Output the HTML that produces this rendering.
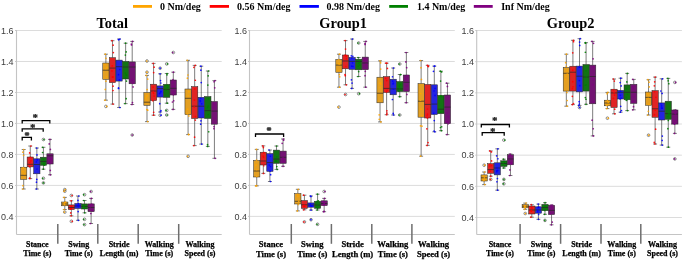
<!DOCTYPE html><html><head><meta charset="utf-8"><title>Chart</title><style>
html,body{margin:0;padding:0;background:#fff;}
body{width:685px;height:262px;overflow:hidden;}
svg{display:block;will-change:transform;}
.lg{font-family:"Liberation Serif",serif;font-weight:bold;font-size:10px;fill:#000;}
.ti{font-family:"Liberation Serif",serif;font-weight:bold;font-size:14.4px;fill:#000;text-anchor:middle;}
.tk{font-family:"Liberation Sans",sans-serif;font-size:9px;fill:#3d3d3d;text-anchor:end;}
.xl{font-family:"Liberation Serif",serif;font-weight:bold;fill:#000;stroke:#000;stroke-width:0.25px;text-anchor:middle;}
.st{font-family:"Liberation Serif",serif;font-weight:bold;font-size:11px;fill:#000;stroke:#000;stroke-width:0.15px;text-anchor:middle;}
</style></head><body><svg width="685" height="262" viewBox="0 0 685 262">
<rect width="685" height="262" fill="#fff"/>
<line x1="133" y1="6.4" x2="152" y2="6.4" stroke="#FFA500" stroke-width="2.8"/>
<text x="160.0" y="9.5" class="lg">0 Nm/deg</text>
<line x1="209.7" y1="6.4" x2="229" y2="6.4" stroke="#FF0000" stroke-width="2.8"/>
<text x="237.1" y="9.5" class="lg">0.56 Nm/deg</text>
<line x1="299.5" y1="6.4" x2="318.9" y2="6.4" stroke="#0000FF" stroke-width="2.8"/>
<text x="326.59999999999997" y="9.5" class="lg">0.98 Nm/deg</text>
<line x1="389.2" y1="6.4" x2="408" y2="6.4" stroke="#008000" stroke-width="2.8"/>
<text x="416.9" y="9.5" class="lg">1.4 Nm/deg</text>
<line x1="473.8" y1="6.4" x2="492.7" y2="6.4" stroke="#800080" stroke-width="2.8"/>
<text x="501.2" y="9.5" class="lg">Inf Nm/deg</text>
<line x1="16.5" y1="30.5" x2="221.7" y2="30.5" stroke="#dcdcdc" stroke-width="1"/>
<line x1="15.2" y1="30.5" x2="16.5" y2="30.5" stroke="#bbbbbb" stroke-width="1"/>
<line x1="16.5" y1="61.480000000000004" x2="221.7" y2="61.480000000000004" stroke="#dcdcdc" stroke-width="1"/>
<line x1="15.2" y1="61.480000000000004" x2="16.5" y2="61.480000000000004" stroke="#bbbbbb" stroke-width="1"/>
<line x1="16.5" y1="92.46000000000001" x2="221.7" y2="92.46000000000001" stroke="#dcdcdc" stroke-width="1"/>
<line x1="15.2" y1="92.46000000000001" x2="16.5" y2="92.46000000000001" stroke="#bbbbbb" stroke-width="1"/>
<line x1="16.5" y1="123.44" x2="221.7" y2="123.44" stroke="#dcdcdc" stroke-width="1"/>
<line x1="15.2" y1="123.44" x2="16.5" y2="123.44" stroke="#bbbbbb" stroke-width="1"/>
<line x1="16.5" y1="154.42000000000002" x2="221.7" y2="154.42000000000002" stroke="#dcdcdc" stroke-width="1"/>
<line x1="15.2" y1="154.42000000000002" x2="16.5" y2="154.42000000000002" stroke="#bbbbbb" stroke-width="1"/>
<line x1="16.5" y1="185.4" x2="221.7" y2="185.4" stroke="#dcdcdc" stroke-width="1"/>
<line x1="15.2" y1="185.4" x2="16.5" y2="185.4" stroke="#bbbbbb" stroke-width="1"/>
<line x1="16.5" y1="216.38" x2="221.7" y2="216.38" stroke="#dcdcdc" stroke-width="1"/>
<line x1="15.2" y1="216.38" x2="16.5" y2="216.38" stroke="#bbbbbb" stroke-width="1"/>
<line x1="16.5" y1="30" x2="16.5" y2="234.5" stroke="#c4c4c4" stroke-width="1.1"/>
<line x1="16.5" y1="234.5" x2="221.7" y2="234.5" stroke="#c4c4c4" stroke-width="1.2"/>
<text x="13.6" y="33.8" class="tk">1.6</text>
<text x="13.6" y="64.78" class="tk">1.4</text>
<text x="13.6" y="95.76" class="tk">1.2</text>
<text x="13.6" y="126.74" class="tk">1.0</text>
<text x="13.6" y="157.72000000000003" class="tk">0.8</text>
<text x="13.6" y="188.70000000000002" class="tk">0.6</text>
<text x="13.6" y="219.68" class="tk">0.4</text>
<text x="112.3" y="28.2" class="ti">Total</text>
<line x1="57.8" y1="224" x2="57.8" y2="243.8" stroke="#6e6e6e" stroke-width="1.5"/>
<line x1="97.8" y1="224" x2="97.8" y2="243.8" stroke="#6e6e6e" stroke-width="1.5"/>
<line x1="138.2" y1="224" x2="138.2" y2="243.8" stroke="#6e6e6e" stroke-width="1.5"/>
<line x1="178.7" y1="224" x2="178.7" y2="243.8" stroke="#6e6e6e" stroke-width="1.5"/>
<text x="37.3" y="246.80" class="xl" font-size="8">Stance</text>
<text x="37.3" y="256.00" class="xl" font-size="8">Time (s)</text>
<text x="78.7" y="246.80" class="xl" font-size="8">Swing</text>
<text x="78.7" y="256.00" class="xl" font-size="8">Time (s)</text>
<text x="119.1" y="246.80" class="xl" font-size="8">Stride</text>
<text x="119.1" y="256.00" class="xl" font-size="8">Length (m)</text>
<text x="159.2" y="246.80" class="xl" font-size="8">Walking</text>
<text x="159.2" y="256.00" class="xl" font-size="8">Time (s)</text>
<text x="200.0" y="246.80" class="xl" font-size="8">Walking</text>
<text x="200.0" y="256.00" class="xl" font-size="8">Speed (s)</text>
<line x1="23.69" y1="149.5" x2="23.69" y2="167.2" stroke="#262626" stroke-width="0.6"/>
<line x1="23.69" y1="179.4" x2="23.69" y2="189.0" stroke="#262626" stroke-width="0.6"/>
<line x1="21.72" y1="149.5" x2="25.66" y2="149.5" stroke="#262626" stroke-width="0.6"/>
<line x1="21.72" y1="189.0" x2="25.66" y2="189.0" stroke="#262626" stroke-width="0.6"/>
<rect x="20.55" y="167.2" width="6.28" height="12.20" fill="#E39F22" stroke="#262626" stroke-width="0.5"/>
<line x1="20.55" y1="175.3" x2="26.83" y2="175.3" stroke="#262626" stroke-width="0.7"/>
<circle cx="23.70" cy="149.50" r="0.85" fill="#FFA500" opacity="0.9"/>
<circle cx="22.86" cy="189.00" r="0.85" fill="#FFA500" opacity="0.9"/>
<circle cx="23.57" cy="155.23" r="0.85" fill="#FFA500" opacity="0.9"/>
<circle cx="22.92" cy="152.17" r="0.85" fill="#FFA500" opacity="0.9"/>
<circle cx="22.95" cy="185.65" r="0.85" fill="#FFA500" opacity="0.9"/>
<circle cx="23.55" cy="168.08" r="0.85" fill="#FFA500" opacity="0.9"/>
<circle cx="24.28" cy="173.74" r="0.85" fill="#FFA500" opacity="0.9"/>
<circle cx="23.01" cy="171.66" r="0.85" fill="#FFA500" opacity="0.9"/>
<circle cx="23.19" cy="167.91" r="0.85" fill="#FFA500" opacity="0.9"/>
<line x1="30.27" y1="146.0" x2="30.27" y2="157.0" stroke="#262626" stroke-width="0.6"/>
<line x1="30.27" y1="166.9" x2="30.27" y2="178.6" stroke="#262626" stroke-width="0.6"/>
<line x1="28.30" y1="146.0" x2="32.24" y2="146.0" stroke="#262626" stroke-width="0.6"/>
<line x1="28.30" y1="178.6" x2="32.24" y2="178.6" stroke="#262626" stroke-width="0.6"/>
<rect x="27.13" y="157.0" width="6.28" height="9.90" fill="#E02424" stroke="#262626" stroke-width="0.5"/>
<line x1="27.13" y1="164.3" x2="33.41" y2="164.3" stroke="#262626" stroke-width="0.7"/>
<circle cx="30.92" cy="146.00" r="0.85" fill="#FF0000" opacity="0.9"/>
<circle cx="29.89" cy="178.60" r="0.85" fill="#FF0000" opacity="0.9"/>
<circle cx="29.63" cy="152.90" r="0.85" fill="#FF0000" opacity="0.9"/>
<circle cx="29.58" cy="177.99" r="0.85" fill="#FF0000" opacity="0.9"/>
<circle cx="29.93" cy="162.71" r="0.85" fill="#FF0000" opacity="0.9"/>
<circle cx="30.84" cy="160.93" r="0.85" fill="#FF0000" opacity="0.9"/>
<circle cx="29.70" cy="166.66" r="0.85" fill="#FF0000" opacity="0.9"/>
<circle cx="30.42" cy="157.46" r="0.85" fill="#FF0000" opacity="0.9"/>
<line x1="36.85" y1="148.0" x2="36.85" y2="158.8" stroke="#262626" stroke-width="0.6"/>
<line x1="36.85" y1="173.8" x2="36.85" y2="189.0" stroke="#262626" stroke-width="0.6"/>
<line x1="34.88" y1="148.0" x2="38.82" y2="148.0" stroke="#262626" stroke-width="0.6"/>
<line x1="34.88" y1="189.0" x2="38.82" y2="189.0" stroke="#262626" stroke-width="0.6"/>
<rect x="33.71" y="158.8" width="6.28" height="15.00" fill="#2424E0" stroke="#262626" stroke-width="0.5"/>
<line x1="33.71" y1="164.5" x2="39.99" y2="164.5" stroke="#262626" stroke-width="0.7"/>
<circle cx="36.72" cy="148.00" r="0.85" fill="#0000FF" opacity="0.9"/>
<circle cx="36.52" cy="189.00" r="0.85" fill="#0000FF" opacity="0.9"/>
<circle cx="37.00" cy="154.90" r="0.85" fill="#0000FF" opacity="0.9"/>
<circle cx="36.77" cy="179.46" r="0.85" fill="#0000FF" opacity="0.9"/>
<circle cx="36.49" cy="182.13" r="0.85" fill="#0000FF" opacity="0.9"/>
<circle cx="37.38" cy="159.74" r="0.85" fill="#0000FF" opacity="0.9"/>
<circle cx="37.21" cy="159.69" r="0.85" fill="#0000FF" opacity="0.9"/>
<circle cx="36.39" cy="161.89" r="0.85" fill="#0000FF" opacity="0.9"/>
<circle cx="36.98" cy="169.01" r="0.85" fill="#0000FF" opacity="0.9"/>
<line x1="43.43" y1="147.3" x2="43.43" y2="157.2" stroke="#262626" stroke-width="0.6"/>
<line x1="43.43" y1="165.3" x2="43.43" y2="169.2" stroke="#262626" stroke-width="0.6"/>
<line x1="41.46" y1="147.3" x2="45.40" y2="147.3" stroke="#262626" stroke-width="0.6"/>
<line x1="41.46" y1="169.2" x2="45.40" y2="169.2" stroke="#262626" stroke-width="0.6"/>
<rect x="40.29" y="157.2" width="6.28" height="8.10" fill="#137313" stroke="#262626" stroke-width="0.5"/>
<line x1="40.29" y1="161.4" x2="46.57" y2="161.4" stroke="#262626" stroke-width="0.7"/>
<circle cx="43.43" cy="139.5" r="1.35" fill="none" stroke="#262626" stroke-width="0.5"/>
<circle cx="43.43" cy="178.3" r="1.35" fill="none" stroke="#262626" stroke-width="0.5"/>
<circle cx="43.43" cy="182.9" r="1.35" fill="none" stroke="#262626" stroke-width="0.5"/>
<circle cx="42.74" cy="147.30" r="0.85" fill="#008000" opacity="0.9"/>
<circle cx="43.28" cy="169.20" r="0.85" fill="#008000" opacity="0.9"/>
<circle cx="43.89" cy="139.50" r="0.85" fill="#008000" opacity="0.9"/>
<circle cx="42.80" cy="178.30" r="0.85" fill="#008000" opacity="0.9"/>
<circle cx="43.41" cy="182.90" r="0.85" fill="#008000" opacity="0.9"/>
<circle cx="42.60" cy="152.50" r="0.85" fill="#008000" opacity="0.9"/>
<circle cx="43.73" cy="164.29" r="0.85" fill="#008000" opacity="0.9"/>
<circle cx="43.91" cy="163.11" r="0.85" fill="#008000" opacity="0.9"/>
<circle cx="43.56" cy="159.53" r="0.85" fill="#008000" opacity="0.9"/>
<circle cx="44.11" cy="165.14" r="0.85" fill="#008000" opacity="0.9"/>
<line x1="50.01" y1="139.4" x2="50.01" y2="153.8" stroke="#262626" stroke-width="0.6"/>
<line x1="50.01" y1="164.0" x2="50.01" y2="174.8" stroke="#262626" stroke-width="0.6"/>
<line x1="48.04" y1="139.4" x2="51.98" y2="139.4" stroke="#262626" stroke-width="0.6"/>
<line x1="48.04" y1="174.8" x2="51.98" y2="174.8" stroke="#262626" stroke-width="0.6"/>
<rect x="46.87" y="153.8" width="6.28" height="10.20" fill="#731373" stroke="#262626" stroke-width="0.5"/>
<line x1="46.87" y1="155.8" x2="53.15" y2="155.8" stroke="#262626" stroke-width="0.7"/>
<circle cx="49.96" cy="139.40" r="0.85" fill="#800080" opacity="0.9"/>
<circle cx="50.31" cy="174.80" r="0.85" fill="#800080" opacity="0.9"/>
<circle cx="49.22" cy="143.92" r="0.85" fill="#800080" opacity="0.9"/>
<circle cx="50.37" cy="149.41" r="0.85" fill="#800080" opacity="0.9"/>
<circle cx="50.27" cy="170.42" r="0.85" fill="#800080" opacity="0.9"/>
<circle cx="50.90" cy="159.71" r="0.85" fill="#800080" opacity="0.9"/>
<circle cx="50.59" cy="158.45" r="0.85" fill="#800080" opacity="0.9"/>
<circle cx="49.62" cy="162.37" r="0.85" fill="#800080" opacity="0.9"/>
<circle cx="49.80" cy="163.44" r="0.85" fill="#800080" opacity="0.9"/>
<line x1="64.79" y1="197.4" x2="64.79" y2="202.0" stroke="#262626" stroke-width="0.6"/>
<line x1="64.79" y1="205.8" x2="64.79" y2="209.5" stroke="#262626" stroke-width="0.6"/>
<line x1="62.82" y1="197.4" x2="66.76" y2="197.4" stroke="#262626" stroke-width="0.6"/>
<line x1="62.82" y1="209.5" x2="66.76" y2="209.5" stroke="#262626" stroke-width="0.6"/>
<rect x="61.65" y="202.0" width="6.28" height="3.80" fill="#E39F22" stroke="#262626" stroke-width="0.5"/>
<line x1="61.65" y1="204.0" x2="67.93" y2="204.0" stroke="#262626" stroke-width="0.7"/>
<circle cx="64.79" cy="189.6" r="1.35" fill="none" stroke="#262626" stroke-width="0.5"/>
<circle cx="64.79" cy="191.2" r="1.35" fill="none" stroke="#262626" stroke-width="0.5"/>
<circle cx="64.79" cy="212.1" r="1.35" fill="none" stroke="#262626" stroke-width="0.5"/>
<circle cx="64.10" cy="197.40" r="0.85" fill="#FFA500" opacity="0.9"/>
<circle cx="64.00" cy="209.50" r="0.85" fill="#FFA500" opacity="0.9"/>
<circle cx="65.27" cy="189.60" r="0.85" fill="#FFA500" opacity="0.9"/>
<circle cx="64.12" cy="191.20" r="0.85" fill="#FFA500" opacity="0.9"/>
<circle cx="64.34" cy="212.10" r="0.85" fill="#FFA500" opacity="0.9"/>
<circle cx="64.59" cy="204.54" r="0.85" fill="#FFA500" opacity="0.9"/>
<circle cx="65.46" cy="202.09" r="0.85" fill="#FFA500" opacity="0.9"/>
<circle cx="64.04" cy="203.75" r="0.85" fill="#FFA500" opacity="0.9"/>
<circle cx="64.70" cy="202.64" r="0.85" fill="#FFA500" opacity="0.9"/>
<line x1="71.37" y1="200.8" x2="71.37" y2="204.9" stroke="#262626" stroke-width="0.6"/>
<line x1="71.37" y1="209.5" x2="71.37" y2="215.8" stroke="#262626" stroke-width="0.6"/>
<line x1="69.40" y1="200.8" x2="73.34" y2="200.8" stroke="#262626" stroke-width="0.6"/>
<line x1="69.40" y1="215.8" x2="73.34" y2="215.8" stroke="#262626" stroke-width="0.6"/>
<rect x="68.23" y="204.9" width="6.28" height="4.60" fill="#E02424" stroke="#262626" stroke-width="0.5"/>
<line x1="68.23" y1="207.5" x2="74.51" y2="207.5" stroke="#262626" stroke-width="0.7"/>
<circle cx="71.37" cy="195.5" r="1.35" fill="none" stroke="#262626" stroke-width="0.5"/>
<circle cx="71.37" cy="221.3" r="1.35" fill="none" stroke="#262626" stroke-width="0.5"/>
<circle cx="71.22" cy="200.80" r="0.85" fill="#FF0000" opacity="0.9"/>
<circle cx="71.12" cy="215.80" r="0.85" fill="#FF0000" opacity="0.9"/>
<circle cx="72.06" cy="195.50" r="0.85" fill="#FF0000" opacity="0.9"/>
<circle cx="72.19" cy="221.30" r="0.85" fill="#FF0000" opacity="0.9"/>
<circle cx="70.74" cy="212.96" r="0.85" fill="#FF0000" opacity="0.9"/>
<circle cx="70.79" cy="208.96" r="0.85" fill="#FF0000" opacity="0.9"/>
<circle cx="70.89" cy="208.67" r="0.85" fill="#FF0000" opacity="0.9"/>
<circle cx="70.89" cy="208.87" r="0.85" fill="#FF0000" opacity="0.9"/>
<circle cx="71.34" cy="206.18" r="0.85" fill="#FF0000" opacity="0.9"/>
<line x1="77.95" y1="196.0" x2="77.95" y2="203.5" stroke="#262626" stroke-width="0.6"/>
<line x1="77.95" y1="208.5" x2="77.95" y2="220.3" stroke="#262626" stroke-width="0.6"/>
<line x1="75.98" y1="196.0" x2="79.92" y2="196.0" stroke="#262626" stroke-width="0.6"/>
<line x1="75.98" y1="220.3" x2="79.92" y2="220.3" stroke="#262626" stroke-width="0.6"/>
<rect x="74.81" y="203.5" width="6.28" height="5.00" fill="#2424E0" stroke="#262626" stroke-width="0.5"/>
<line x1="74.81" y1="206.0" x2="81.09" y2="206.0" stroke="#262626" stroke-width="0.7"/>
<circle cx="78.77" cy="196.00" r="0.85" fill="#0000FF" opacity="0.9"/>
<circle cx="78.29" cy="220.30" r="0.85" fill="#0000FF" opacity="0.9"/>
<circle cx="77.98" cy="200.42" r="0.85" fill="#0000FF" opacity="0.9"/>
<circle cx="78.16" cy="211.60" r="0.85" fill="#0000FF" opacity="0.9"/>
<circle cx="78.27" cy="203.52" r="0.85" fill="#0000FF" opacity="0.9"/>
<circle cx="77.15" cy="205.59" r="0.85" fill="#0000FF" opacity="0.9"/>
<circle cx="78.67" cy="205.35" r="0.85" fill="#0000FF" opacity="0.9"/>
<circle cx="78.45" cy="206.33" r="0.85" fill="#0000FF" opacity="0.9"/>
<line x1="84.53" y1="200.5" x2="84.53" y2="203.9" stroke="#262626" stroke-width="0.6"/>
<line x1="84.53" y1="209.0" x2="84.53" y2="212.8" stroke="#262626" stroke-width="0.6"/>
<line x1="82.56" y1="200.5" x2="86.50" y2="200.5" stroke="#262626" stroke-width="0.6"/>
<line x1="82.56" y1="212.8" x2="86.50" y2="212.8" stroke="#262626" stroke-width="0.6"/>
<rect x="81.39" y="203.9" width="6.28" height="5.10" fill="#137313" stroke="#262626" stroke-width="0.5"/>
<line x1="81.39" y1="206.5" x2="87.67" y2="206.5" stroke="#262626" stroke-width="0.7"/>
<circle cx="84.53" cy="194.7" r="1.35" fill="none" stroke="#262626" stroke-width="0.5"/>
<circle cx="84.53" cy="219.3" r="1.35" fill="none" stroke="#262626" stroke-width="0.5"/>
<circle cx="84.53" cy="224.6" r="1.35" fill="none" stroke="#262626" stroke-width="0.5"/>
<circle cx="83.82" cy="200.50" r="0.85" fill="#008000" opacity="0.9"/>
<circle cx="84.77" cy="212.80" r="0.85" fill="#008000" opacity="0.9"/>
<circle cx="83.74" cy="194.70" r="0.85" fill="#008000" opacity="0.9"/>
<circle cx="83.75" cy="219.30" r="0.85" fill="#008000" opacity="0.9"/>
<circle cx="84.01" cy="224.60" r="0.85" fill="#008000" opacity="0.9"/>
<circle cx="83.92" cy="208.36" r="0.85" fill="#008000" opacity="0.9"/>
<circle cx="84.24" cy="207.97" r="0.85" fill="#008000" opacity="0.9"/>
<circle cx="83.72" cy="205.90" r="0.85" fill="#008000" opacity="0.9"/>
<circle cx="83.63" cy="205.93" r="0.85" fill="#008000" opacity="0.9"/>
<line x1="91.11" y1="198.4" x2="91.11" y2="203.9" stroke="#262626" stroke-width="0.6"/>
<line x1="91.11" y1="211.7" x2="91.11" y2="223.5" stroke="#262626" stroke-width="0.6"/>
<line x1="89.14" y1="198.4" x2="93.08" y2="198.4" stroke="#262626" stroke-width="0.6"/>
<line x1="89.14" y1="223.5" x2="93.08" y2="223.5" stroke="#262626" stroke-width="0.6"/>
<rect x="87.97" y="203.9" width="6.28" height="7.80" fill="#731373" stroke="#262626" stroke-width="0.5"/>
<line x1="87.97" y1="207.5" x2="94.25" y2="207.5" stroke="#262626" stroke-width="0.7"/>
<circle cx="91.11" cy="191.5" r="1.35" fill="none" stroke="#262626" stroke-width="0.5"/>
<circle cx="91.32" cy="198.40" r="0.85" fill="#800080" opacity="0.9"/>
<circle cx="90.48" cy="223.50" r="0.85" fill="#800080" opacity="0.9"/>
<circle cx="90.66" cy="191.50" r="0.85" fill="#800080" opacity="0.9"/>
<circle cx="90.84" cy="213.48" r="0.85" fill="#800080" opacity="0.9"/>
<circle cx="90.87" cy="204.69" r="0.85" fill="#800080" opacity="0.9"/>
<circle cx="90.43" cy="206.74" r="0.85" fill="#800080" opacity="0.9"/>
<circle cx="91.74" cy="204.10" r="0.85" fill="#800080" opacity="0.9"/>
<circle cx="92.00" cy="210.72" r="0.85" fill="#800080" opacity="0.9"/>
<line x1="105.89" y1="54.2" x2="105.89" y2="63.0" stroke="#262626" stroke-width="0.6"/>
<line x1="105.89" y1="79.4" x2="105.89" y2="100.2" stroke="#262626" stroke-width="0.6"/>
<line x1="103.92" y1="54.2" x2="107.86" y2="54.2" stroke="#262626" stroke-width="0.6"/>
<line x1="103.92" y1="100.2" x2="107.86" y2="100.2" stroke="#262626" stroke-width="0.6"/>
<rect x="102.75" y="63.0" width="6.28" height="16.40" fill="#E39F22" stroke="#262626" stroke-width="0.5"/>
<line x1="102.75" y1="70.2" x2="109.03" y2="70.2" stroke="#262626" stroke-width="0.7"/>
<circle cx="105.89" cy="106.4" r="1.35" fill="none" stroke="#262626" stroke-width="0.5"/>
<circle cx="105.28" cy="54.20" r="0.85" fill="#FFA500" opacity="0.9"/>
<circle cx="105.03" cy="100.20" r="0.85" fill="#FFA500" opacity="0.9"/>
<circle cx="106.70" cy="106.40" r="0.85" fill="#FFA500" opacity="0.9"/>
<circle cx="105.94" cy="58.30" r="0.85" fill="#FFA500" opacity="0.9"/>
<circle cx="105.25" cy="89.46" r="0.85" fill="#FFA500" opacity="0.9"/>
<circle cx="105.97" cy="81.19" r="0.85" fill="#FFA500" opacity="0.9"/>
<circle cx="105.04" cy="64.68" r="0.85" fill="#FFA500" opacity="0.9"/>
<circle cx="105.94" cy="68.62" r="0.85" fill="#FFA500" opacity="0.9"/>
<circle cx="106.75" cy="67.34" r="0.85" fill="#FFA500" opacity="0.9"/>
<circle cx="106.54" cy="76.59" r="0.85" fill="#FFA500" opacity="0.9"/>
<line x1="112.47" y1="40.7" x2="112.47" y2="57.7" stroke="#262626" stroke-width="0.6"/>
<line x1="112.47" y1="82.6" x2="112.47" y2="104.1" stroke="#262626" stroke-width="0.6"/>
<line x1="110.50" y1="40.7" x2="114.44" y2="40.7" stroke="#262626" stroke-width="0.6"/>
<line x1="110.50" y1="104.1" x2="114.44" y2="104.1" stroke="#262626" stroke-width="0.6"/>
<rect x="109.33" y="57.7" width="6.28" height="24.90" fill="#E02424" stroke="#262626" stroke-width="0.5"/>
<line x1="109.33" y1="68.1" x2="115.61" y2="68.1" stroke="#262626" stroke-width="0.7"/>
<circle cx="111.97" cy="40.70" r="0.85" fill="#FF0000" opacity="0.9"/>
<circle cx="113.03" cy="104.10" r="0.85" fill="#FF0000" opacity="0.9"/>
<circle cx="113.34" cy="52.54" r="0.85" fill="#FF0000" opacity="0.9"/>
<circle cx="113.10" cy="45.14" r="0.85" fill="#FF0000" opacity="0.9"/>
<circle cx="113.02" cy="90.48" r="0.85" fill="#FF0000" opacity="0.9"/>
<circle cx="113.04" cy="86.19" r="0.85" fill="#FF0000" opacity="0.9"/>
<circle cx="112.90" cy="76.92" r="0.85" fill="#FF0000" opacity="0.9"/>
<circle cx="111.98" cy="70.96" r="0.85" fill="#FF0000" opacity="0.9"/>
<circle cx="112.50" cy="77.10" r="0.85" fill="#FF0000" opacity="0.9"/>
<circle cx="112.21" cy="65.91" r="0.85" fill="#FF0000" opacity="0.9"/>
<line x1="119.05" y1="39.0" x2="119.05" y2="60.1" stroke="#262626" stroke-width="0.6"/>
<line x1="119.05" y1="81.1" x2="119.05" y2="107.5" stroke="#262626" stroke-width="0.6"/>
<line x1="117.08" y1="39.0" x2="121.02" y2="39.0" stroke="#262626" stroke-width="0.6"/>
<line x1="117.08" y1="107.5" x2="121.02" y2="107.5" stroke="#262626" stroke-width="0.6"/>
<rect x="115.91" y="60.1" width="6.28" height="21.00" fill="#2424E0" stroke="#262626" stroke-width="0.5"/>
<line x1="115.91" y1="66.7" x2="122.19" y2="66.7" stroke="#262626" stroke-width="0.7"/>
<circle cx="119.93" cy="39.00" r="0.85" fill="#0000FF" opacity="0.9"/>
<circle cx="119.87" cy="107.50" r="0.85" fill="#0000FF" opacity="0.9"/>
<circle cx="118.81" cy="39.61" r="0.85" fill="#0000FF" opacity="0.9"/>
<circle cx="118.55" cy="39.59" r="0.85" fill="#0000FF" opacity="0.9"/>
<circle cx="118.56" cy="88.48" r="0.85" fill="#0000FF" opacity="0.9"/>
<circle cx="118.50" cy="87.94" r="0.85" fill="#0000FF" opacity="0.9"/>
<circle cx="118.52" cy="74.64" r="0.85" fill="#0000FF" opacity="0.9"/>
<circle cx="119.27" cy="80.19" r="0.85" fill="#0000FF" opacity="0.9"/>
<circle cx="119.77" cy="69.49" r="0.85" fill="#0000FF" opacity="0.9"/>
<circle cx="119.66" cy="79.78" r="0.85" fill="#0000FF" opacity="0.9"/>
<line x1="125.63" y1="43.2" x2="125.63" y2="61.4" stroke="#262626" stroke-width="0.6"/>
<line x1="125.63" y1="79.0" x2="125.63" y2="103.6" stroke="#262626" stroke-width="0.6"/>
<line x1="123.66" y1="43.2" x2="127.60" y2="43.2" stroke="#262626" stroke-width="0.6"/>
<line x1="123.66" y1="103.6" x2="127.60" y2="103.6" stroke="#262626" stroke-width="0.6"/>
<rect x="122.49" y="61.4" width="6.28" height="17.60" fill="#137313" stroke="#262626" stroke-width="0.5"/>
<line x1="122.49" y1="67.0" x2="128.77" y2="67.0" stroke="#262626" stroke-width="0.7"/>
<circle cx="125.59" cy="43.20" r="0.85" fill="#008000" opacity="0.9"/>
<circle cx="125.05" cy="103.60" r="0.85" fill="#008000" opacity="0.9"/>
<circle cx="126.15" cy="51.93" r="0.85" fill="#008000" opacity="0.9"/>
<circle cx="125.33" cy="55.08" r="0.85" fill="#008000" opacity="0.9"/>
<circle cx="126.17" cy="98.67" r="0.85" fill="#008000" opacity="0.9"/>
<circle cx="126.48" cy="81.09" r="0.85" fill="#008000" opacity="0.9"/>
<circle cx="125.44" cy="73.03" r="0.85" fill="#008000" opacity="0.9"/>
<circle cx="125.45" cy="77.41" r="0.85" fill="#008000" opacity="0.9"/>
<circle cx="126.43" cy="75.17" r="0.85" fill="#008000" opacity="0.9"/>
<circle cx="126.03" cy="74.60" r="0.85" fill="#008000" opacity="0.9"/>
<line x1="132.21" y1="41.4" x2="132.21" y2="61.9" stroke="#262626" stroke-width="0.6"/>
<line x1="132.21" y1="83.8" x2="132.21" y2="104.5" stroke="#262626" stroke-width="0.6"/>
<line x1="130.24" y1="41.4" x2="134.18" y2="41.4" stroke="#262626" stroke-width="0.6"/>
<line x1="130.24" y1="104.5" x2="134.18" y2="104.5" stroke="#262626" stroke-width="0.6"/>
<rect x="129.07" y="61.9" width="6.28" height="21.90" fill="#731373" stroke="#262626" stroke-width="0.5"/>
<line x1="129.07" y1="67.0" x2="135.35" y2="67.0" stroke="#262626" stroke-width="0.7"/>
<circle cx="132.21" cy="135.0" r="1.35" fill="none" stroke="#262626" stroke-width="0.5"/>
<circle cx="132.49" cy="41.40" r="0.85" fill="#800080" opacity="0.9"/>
<circle cx="131.94" cy="104.50" r="0.85" fill="#800080" opacity="0.9"/>
<circle cx="132.30" cy="135.00" r="0.85" fill="#800080" opacity="0.9"/>
<circle cx="131.55" cy="44.89" r="0.85" fill="#800080" opacity="0.9"/>
<circle cx="131.34" cy="44.00" r="0.85" fill="#800080" opacity="0.9"/>
<circle cx="133.06" cy="86.93" r="0.85" fill="#800080" opacity="0.9"/>
<circle cx="132.48" cy="102.53" r="0.85" fill="#800080" opacity="0.9"/>
<circle cx="132.26" cy="79.56" r="0.85" fill="#800080" opacity="0.9"/>
<circle cx="132.99" cy="65.10" r="0.85" fill="#800080" opacity="0.9"/>
<circle cx="132.09" cy="80.00" r="0.85" fill="#800080" opacity="0.9"/>
<circle cx="132.88" cy="83.37" r="0.85" fill="#800080" opacity="0.9"/>
<line x1="146.99" y1="75.4" x2="146.99" y2="92.6" stroke="#262626" stroke-width="0.6"/>
<line x1="146.99" y1="105.4" x2="146.99" y2="121.6" stroke="#262626" stroke-width="0.6"/>
<line x1="145.02" y1="75.4" x2="148.96" y2="75.4" stroke="#262626" stroke-width="0.6"/>
<line x1="145.02" y1="121.6" x2="148.96" y2="121.6" stroke="#262626" stroke-width="0.6"/>
<rect x="143.85" y="92.6" width="6.28" height="12.80" fill="#E39F22" stroke="#262626" stroke-width="0.5"/>
<line x1="143.85" y1="102.2" x2="150.13" y2="102.2" stroke="#262626" stroke-width="0.7"/>
<circle cx="146.99" cy="61.0" r="1.35" fill="none" stroke="#262626" stroke-width="0.5"/>
<circle cx="146.99" cy="72.2" r="1.35" fill="none" stroke="#262626" stroke-width="0.5"/>
<circle cx="146.33" cy="75.40" r="0.85" fill="#FFA500" opacity="0.9"/>
<circle cx="147.73" cy="121.60" r="0.85" fill="#FFA500" opacity="0.9"/>
<circle cx="146.73" cy="61.00" r="0.85" fill="#FFA500" opacity="0.9"/>
<circle cx="146.91" cy="72.20" r="0.85" fill="#FFA500" opacity="0.9"/>
<circle cx="147.14" cy="89.61" r="0.85" fill="#FFA500" opacity="0.9"/>
<circle cx="147.72" cy="79.03" r="0.85" fill="#FFA500" opacity="0.9"/>
<circle cx="146.85" cy="109.48" r="0.85" fill="#FFA500" opacity="0.9"/>
<circle cx="147.74" cy="110.15" r="0.85" fill="#FFA500" opacity="0.9"/>
<circle cx="146.99" cy="95.68" r="0.85" fill="#FFA500" opacity="0.9"/>
<circle cx="147.05" cy="100.11" r="0.85" fill="#FFA500" opacity="0.9"/>
<circle cx="147.03" cy="95.92" r="0.85" fill="#FFA500" opacity="0.9"/>
<circle cx="146.12" cy="97.96" r="0.85" fill="#FFA500" opacity="0.9"/>
<line x1="153.57" y1="63.4" x2="153.57" y2="84.2" stroke="#262626" stroke-width="0.6"/>
<line x1="153.57" y1="100.6" x2="153.57" y2="115.2" stroke="#262626" stroke-width="0.6"/>
<line x1="151.60" y1="63.4" x2="155.54" y2="63.4" stroke="#262626" stroke-width="0.6"/>
<line x1="151.60" y1="115.2" x2="155.54" y2="115.2" stroke="#262626" stroke-width="0.6"/>
<rect x="150.43" y="84.2" width="6.28" height="16.40" fill="#E02424" stroke="#262626" stroke-width="0.5"/>
<line x1="150.43" y1="91.0" x2="156.71" y2="91.0" stroke="#262626" stroke-width="0.7"/>
<circle cx="153.26" cy="63.40" r="0.85" fill="#FF0000" opacity="0.9"/>
<circle cx="153.60" cy="115.20" r="0.85" fill="#FF0000" opacity="0.9"/>
<circle cx="153.67" cy="72.55" r="0.85" fill="#FF0000" opacity="0.9"/>
<circle cx="154.08" cy="67.21" r="0.85" fill="#FF0000" opacity="0.9"/>
<circle cx="152.86" cy="100.66" r="0.85" fill="#FF0000" opacity="0.9"/>
<circle cx="153.68" cy="112.27" r="0.85" fill="#FF0000" opacity="0.9"/>
<circle cx="153.12" cy="87.03" r="0.85" fill="#FF0000" opacity="0.9"/>
<circle cx="153.17" cy="91.97" r="0.85" fill="#FF0000" opacity="0.9"/>
<circle cx="154.06" cy="96.09" r="0.85" fill="#FF0000" opacity="0.9"/>
<circle cx="153.58" cy="93.33" r="0.85" fill="#FF0000" opacity="0.9"/>
<line x1="160.15" y1="73.8" x2="160.15" y2="85.9" stroke="#262626" stroke-width="0.6"/>
<line x1="160.15" y1="97.1" x2="160.15" y2="112.0" stroke="#262626" stroke-width="0.6"/>
<line x1="158.18" y1="73.8" x2="162.12" y2="73.8" stroke="#262626" stroke-width="0.6"/>
<line x1="158.18" y1="112.0" x2="162.12" y2="112.0" stroke="#262626" stroke-width="0.6"/>
<rect x="157.01" y="85.9" width="6.28" height="11.20" fill="#2424E0" stroke="#262626" stroke-width="0.5"/>
<line x1="157.01" y1="88.6" x2="163.29" y2="88.6" stroke="#262626" stroke-width="0.7"/>
<circle cx="160.15" cy="68.2" r="1.35" fill="none" stroke="#262626" stroke-width="0.5"/>
<circle cx="160.15" cy="115.2" r="1.35" fill="none" stroke="#262626" stroke-width="0.5"/>
<circle cx="160.06" cy="73.80" r="0.85" fill="#0000FF" opacity="0.9"/>
<circle cx="160.21" cy="112.00" r="0.85" fill="#0000FF" opacity="0.9"/>
<circle cx="160.11" cy="68.20" r="0.85" fill="#0000FF" opacity="0.9"/>
<circle cx="160.94" cy="115.20" r="0.85" fill="#0000FF" opacity="0.9"/>
<circle cx="160.51" cy="80.60" r="0.85" fill="#0000FF" opacity="0.9"/>
<circle cx="160.83" cy="83.00" r="0.85" fill="#0000FF" opacity="0.9"/>
<circle cx="160.95" cy="110.70" r="0.85" fill="#0000FF" opacity="0.9"/>
<circle cx="159.72" cy="103.70" r="0.85" fill="#0000FF" opacity="0.9"/>
<circle cx="160.26" cy="92.76" r="0.85" fill="#0000FF" opacity="0.9"/>
<circle cx="160.95" cy="91.56" r="0.85" fill="#0000FF" opacity="0.9"/>
<circle cx="160.76" cy="91.64" r="0.85" fill="#0000FF" opacity="0.9"/>
<circle cx="159.50" cy="93.66" r="0.85" fill="#0000FF" opacity="0.9"/>
<line x1="166.73" y1="73.5" x2="166.73" y2="84.3" stroke="#262626" stroke-width="0.6"/>
<line x1="166.73" y1="97.4" x2="166.73" y2="103.2" stroke="#262626" stroke-width="0.6"/>
<line x1="164.76" y1="73.5" x2="168.70" y2="73.5" stroke="#262626" stroke-width="0.6"/>
<line x1="164.76" y1="103.2" x2="168.70" y2="103.2" stroke="#262626" stroke-width="0.6"/>
<rect x="163.59" y="84.3" width="6.28" height="13.10" fill="#137313" stroke="#262626" stroke-width="0.5"/>
<line x1="163.59" y1="89.4" x2="169.87" y2="89.4" stroke="#262626" stroke-width="0.7"/>
<circle cx="166.73" cy="63.9" r="1.35" fill="none" stroke="#262626" stroke-width="0.5"/>
<circle cx="166.73" cy="110.4" r="1.35" fill="none" stroke="#262626" stroke-width="0.5"/>
<circle cx="166.73" cy="115.0" r="1.35" fill="none" stroke="#262626" stroke-width="0.5"/>
<circle cx="167.04" cy="73.50" r="0.85" fill="#008000" opacity="0.9"/>
<circle cx="167.24" cy="103.20" r="0.85" fill="#008000" opacity="0.9"/>
<circle cx="167.44" cy="63.90" r="0.85" fill="#008000" opacity="0.9"/>
<circle cx="166.11" cy="110.40" r="0.85" fill="#008000" opacity="0.9"/>
<circle cx="167.12" cy="115.00" r="0.85" fill="#008000" opacity="0.9"/>
<circle cx="167.02" cy="74.81" r="0.85" fill="#008000" opacity="0.9"/>
<circle cx="166.09" cy="90.09" r="0.85" fill="#008000" opacity="0.9"/>
<circle cx="167.42" cy="85.25" r="0.85" fill="#008000" opacity="0.9"/>
<circle cx="167.57" cy="87.45" r="0.85" fill="#008000" opacity="0.9"/>
<circle cx="166.23" cy="85.26" r="0.85" fill="#008000" opacity="0.9"/>
<line x1="173.31" y1="72.2" x2="173.31" y2="80.0" stroke="#262626" stroke-width="0.6"/>
<line x1="173.31" y1="95.0" x2="173.31" y2="109.4" stroke="#262626" stroke-width="0.6"/>
<line x1="171.34" y1="72.2" x2="175.28" y2="72.2" stroke="#262626" stroke-width="0.6"/>
<line x1="171.34" y1="109.4" x2="175.28" y2="109.4" stroke="#262626" stroke-width="0.6"/>
<rect x="170.17" y="80.0" width="6.28" height="15.00" fill="#731373" stroke="#262626" stroke-width="0.5"/>
<line x1="170.17" y1="88.3" x2="176.45" y2="88.3" stroke="#262626" stroke-width="0.7"/>
<circle cx="173.31" cy="52.5" r="1.35" fill="none" stroke="#262626" stroke-width="0.5"/>
<circle cx="173.34" cy="72.20" r="0.85" fill="#800080" opacity="0.9"/>
<circle cx="173.02" cy="109.40" r="0.85" fill="#800080" opacity="0.9"/>
<circle cx="172.76" cy="52.50" r="0.85" fill="#800080" opacity="0.9"/>
<circle cx="172.98" cy="79.63" r="0.85" fill="#800080" opacity="0.9"/>
<circle cx="173.71" cy="100.73" r="0.85" fill="#800080" opacity="0.9"/>
<circle cx="172.45" cy="102.02" r="0.85" fill="#800080" opacity="0.9"/>
<circle cx="173.41" cy="94.85" r="0.85" fill="#800080" opacity="0.9"/>
<circle cx="173.20" cy="92.49" r="0.85" fill="#800080" opacity="0.9"/>
<circle cx="172.44" cy="82.42" r="0.85" fill="#800080" opacity="0.9"/>
<circle cx="173.01" cy="86.47" r="0.85" fill="#800080" opacity="0.9"/>
<line x1="188.09" y1="60.3" x2="188.09" y2="89.0" stroke="#262626" stroke-width="0.6"/>
<line x1="188.09" y1="114.6" x2="188.09" y2="134.6" stroke="#262626" stroke-width="0.6"/>
<line x1="186.12" y1="60.3" x2="190.06" y2="60.3" stroke="#262626" stroke-width="0.6"/>
<line x1="186.12" y1="134.6" x2="190.06" y2="134.6" stroke="#262626" stroke-width="0.6"/>
<rect x="184.95" y="89.0" width="6.28" height="25.60" fill="#E39F22" stroke="#262626" stroke-width="0.5"/>
<line x1="184.95" y1="98.3" x2="191.23" y2="98.3" stroke="#262626" stroke-width="0.7"/>
<circle cx="188.09" cy="156.3" r="1.35" fill="none" stroke="#262626" stroke-width="0.5"/>
<circle cx="187.26" cy="60.30" r="0.85" fill="#FFA500" opacity="0.9"/>
<circle cx="188.59" cy="134.60" r="0.85" fill="#FFA500" opacity="0.9"/>
<circle cx="187.68" cy="156.30" r="0.85" fill="#FFA500" opacity="0.9"/>
<circle cx="187.42" cy="78.21" r="0.85" fill="#FFA500" opacity="0.9"/>
<circle cx="187.95" cy="75.00" r="0.85" fill="#FFA500" opacity="0.9"/>
<circle cx="188.83" cy="115.89" r="0.85" fill="#FFA500" opacity="0.9"/>
<circle cx="188.66" cy="134.30" r="0.85" fill="#FFA500" opacity="0.9"/>
<circle cx="187.66" cy="109.18" r="0.85" fill="#FFA500" opacity="0.9"/>
<circle cx="187.46" cy="113.88" r="0.85" fill="#FFA500" opacity="0.9"/>
<circle cx="188.84" cy="91.68" r="0.85" fill="#FFA500" opacity="0.9"/>
<circle cx="188.22" cy="95.80" r="0.85" fill="#FFA500" opacity="0.9"/>
<line x1="194.67" y1="65.4" x2="194.67" y2="86.6" stroke="#262626" stroke-width="0.6"/>
<line x1="194.67" y1="118.5" x2="194.67" y2="145.6" stroke="#262626" stroke-width="0.6"/>
<line x1="192.70" y1="65.4" x2="196.64" y2="65.4" stroke="#262626" stroke-width="0.6"/>
<line x1="192.70" y1="145.6" x2="196.64" y2="145.6" stroke="#262626" stroke-width="0.6"/>
<rect x="191.53" y="86.6" width="6.28" height="31.90" fill="#E02424" stroke="#262626" stroke-width="0.5"/>
<line x1="191.53" y1="106.2" x2="197.81" y2="106.2" stroke="#262626" stroke-width="0.7"/>
<circle cx="195.21" cy="65.40" r="0.85" fill="#FF0000" opacity="0.9"/>
<circle cx="193.92" cy="145.60" r="0.85" fill="#FF0000" opacity="0.9"/>
<circle cx="195.31" cy="80.25" r="0.85" fill="#FF0000" opacity="0.9"/>
<circle cx="193.89" cy="67.30" r="0.85" fill="#FF0000" opacity="0.9"/>
<circle cx="195.32" cy="120.06" r="0.85" fill="#FF0000" opacity="0.9"/>
<circle cx="194.59" cy="137.15" r="0.85" fill="#FF0000" opacity="0.9"/>
<circle cx="194.38" cy="100.17" r="0.85" fill="#FF0000" opacity="0.9"/>
<circle cx="194.77" cy="88.91" r="0.85" fill="#FF0000" opacity="0.9"/>
<circle cx="195.44" cy="116.53" r="0.85" fill="#FF0000" opacity="0.9"/>
<circle cx="194.25" cy="106.84" r="0.85" fill="#FF0000" opacity="0.9"/>
<line x1="201.25" y1="66.2" x2="201.25" y2="97.3" stroke="#262626" stroke-width="0.6"/>
<line x1="201.25" y1="118.0" x2="201.25" y2="144.1" stroke="#262626" stroke-width="0.6"/>
<line x1="199.28" y1="66.2" x2="203.22" y2="66.2" stroke="#262626" stroke-width="0.6"/>
<line x1="199.28" y1="144.1" x2="203.22" y2="144.1" stroke="#262626" stroke-width="0.6"/>
<rect x="198.11" y="97.3" width="6.28" height="20.70" fill="#2424E0" stroke="#262626" stroke-width="0.5"/>
<line x1="198.11" y1="106.2" x2="204.39" y2="106.2" stroke="#262626" stroke-width="0.7"/>
<circle cx="200.90" cy="66.20" r="0.85" fill="#0000FF" opacity="0.9"/>
<circle cx="201.72" cy="144.10" r="0.85" fill="#0000FF" opacity="0.9"/>
<circle cx="200.87" cy="70.22" r="0.85" fill="#0000FF" opacity="0.9"/>
<circle cx="201.25" cy="82.59" r="0.85" fill="#0000FF" opacity="0.9"/>
<circle cx="200.67" cy="124.22" r="0.85" fill="#0000FF" opacity="0.9"/>
<circle cx="200.97" cy="120.86" r="0.85" fill="#0000FF" opacity="0.9"/>
<circle cx="200.38" cy="100.64" r="0.85" fill="#0000FF" opacity="0.9"/>
<circle cx="200.80" cy="98.34" r="0.85" fill="#0000FF" opacity="0.9"/>
<circle cx="200.38" cy="101.48" r="0.85" fill="#0000FF" opacity="0.9"/>
<circle cx="201.67" cy="103.76" r="0.85" fill="#0000FF" opacity="0.9"/>
<line x1="207.83" y1="71.0" x2="207.83" y2="96.5" stroke="#262626" stroke-width="0.6"/>
<line x1="207.83" y1="118.5" x2="207.83" y2="146.4" stroke="#262626" stroke-width="0.6"/>
<line x1="205.86" y1="71.0" x2="209.80" y2="71.0" stroke="#262626" stroke-width="0.6"/>
<line x1="205.86" y1="146.4" x2="209.80" y2="146.4" stroke="#262626" stroke-width="0.6"/>
<rect x="204.69" y="96.5" width="6.28" height="22.00" fill="#137313" stroke="#262626" stroke-width="0.5"/>
<line x1="204.69" y1="110.6" x2="210.97" y2="110.6" stroke="#262626" stroke-width="0.7"/>
<circle cx="208.43" cy="71.00" r="0.85" fill="#008000" opacity="0.9"/>
<circle cx="207.64" cy="146.40" r="0.85" fill="#008000" opacity="0.9"/>
<circle cx="207.84" cy="85.05" r="0.85" fill="#008000" opacity="0.9"/>
<circle cx="208.17" cy="75.83" r="0.85" fill="#008000" opacity="0.9"/>
<circle cx="208.70" cy="131.75" r="0.85" fill="#008000" opacity="0.9"/>
<circle cx="207.55" cy="144.58" r="0.85" fill="#008000" opacity="0.9"/>
<circle cx="208.43" cy="98.84" r="0.85" fill="#008000" opacity="0.9"/>
<circle cx="208.20" cy="114.52" r="0.85" fill="#008000" opacity="0.9"/>
<circle cx="208.07" cy="106.01" r="0.85" fill="#008000" opacity="0.9"/>
<circle cx="207.66" cy="107.39" r="0.85" fill="#008000" opacity="0.9"/>
<line x1="214.41" y1="80.6" x2="214.41" y2="101.5" stroke="#262626" stroke-width="0.6"/>
<line x1="214.41" y1="124.2" x2="214.41" y2="158.3" stroke="#262626" stroke-width="0.6"/>
<line x1="212.44" y1="80.6" x2="216.38" y2="80.6" stroke="#262626" stroke-width="0.6"/>
<line x1="212.44" y1="158.3" x2="216.38" y2="158.3" stroke="#262626" stroke-width="0.6"/>
<rect x="211.27" y="101.5" width="6.28" height="22.70" fill="#731373" stroke="#262626" stroke-width="0.5"/>
<line x1="211.27" y1="111.1" x2="217.55" y2="111.1" stroke="#262626" stroke-width="0.7"/>
<circle cx="215.02" cy="80.60" r="0.85" fill="#800080" opacity="0.9"/>
<circle cx="215.08" cy="158.30" r="0.85" fill="#800080" opacity="0.9"/>
<circle cx="214.72" cy="87.86" r="0.85" fill="#800080" opacity="0.9"/>
<circle cx="214.02" cy="81.74" r="0.85" fill="#800080" opacity="0.9"/>
<circle cx="213.95" cy="128.63" r="0.85" fill="#800080" opacity="0.9"/>
<circle cx="214.04" cy="126.61" r="0.85" fill="#800080" opacity="0.9"/>
<circle cx="214.34" cy="118.32" r="0.85" fill="#800080" opacity="0.9"/>
<circle cx="213.79" cy="107.30" r="0.85" fill="#800080" opacity="0.9"/>
<circle cx="214.31" cy="105.21" r="0.85" fill="#800080" opacity="0.9"/>
<circle cx="213.98" cy="103.42" r="0.85" fill="#800080" opacity="0.9"/>
<line x1="249.5" y1="30.5" x2="454.8" y2="30.5" stroke="#dcdcdc" stroke-width="1"/>
<line x1="248.2" y1="30.5" x2="249.5" y2="30.5" stroke="#bbbbbb" stroke-width="1"/>
<line x1="249.5" y1="61.480000000000004" x2="454.8" y2="61.480000000000004" stroke="#dcdcdc" stroke-width="1"/>
<line x1="248.2" y1="61.480000000000004" x2="249.5" y2="61.480000000000004" stroke="#bbbbbb" stroke-width="1"/>
<line x1="249.5" y1="92.46000000000001" x2="454.8" y2="92.46000000000001" stroke="#dcdcdc" stroke-width="1"/>
<line x1="248.2" y1="92.46000000000001" x2="249.5" y2="92.46000000000001" stroke="#bbbbbb" stroke-width="1"/>
<line x1="249.5" y1="123.44" x2="454.8" y2="123.44" stroke="#dcdcdc" stroke-width="1"/>
<line x1="248.2" y1="123.44" x2="249.5" y2="123.44" stroke="#bbbbbb" stroke-width="1"/>
<line x1="249.5" y1="154.42000000000002" x2="454.8" y2="154.42000000000002" stroke="#dcdcdc" stroke-width="1"/>
<line x1="248.2" y1="154.42000000000002" x2="249.5" y2="154.42000000000002" stroke="#bbbbbb" stroke-width="1"/>
<line x1="249.5" y1="185.4" x2="454.8" y2="185.4" stroke="#dcdcdc" stroke-width="1"/>
<line x1="248.2" y1="185.4" x2="249.5" y2="185.4" stroke="#bbbbbb" stroke-width="1"/>
<line x1="249.5" y1="216.38" x2="454.8" y2="216.38" stroke="#dcdcdc" stroke-width="1"/>
<line x1="248.2" y1="216.38" x2="249.5" y2="216.38" stroke="#bbbbbb" stroke-width="1"/>
<line x1="249.5" y1="30" x2="249.5" y2="234.5" stroke="#c4c4c4" stroke-width="1.1"/>
<line x1="249.5" y1="234.5" x2="454.8" y2="234.5" stroke="#c4c4c4" stroke-width="1.2"/>
<text x="247.0" y="33.8" class="tk">1.6</text>
<text x="247.0" y="64.78" class="tk">1.4</text>
<text x="247.0" y="95.76" class="tk">1.2</text>
<text x="247.0" y="126.74" class="tk">1.0</text>
<text x="247.0" y="157.72000000000003" class="tk">0.8</text>
<text x="247.0" y="188.70000000000002" class="tk">0.6</text>
<text x="247.0" y="219.68" class="tk">0.4</text>
<text x="343.2" y="28.2" class="ti">Group1</text>
<line x1="291.3" y1="224" x2="291.3" y2="243.8" stroke="#6e6e6e" stroke-width="1.5"/>
<line x1="331.4" y1="224" x2="331.4" y2="243.8" stroke="#6e6e6e" stroke-width="1.5"/>
<line x1="371.8" y1="224" x2="371.8" y2="243.8" stroke="#6e6e6e" stroke-width="1.5"/>
<line x1="411.9" y1="224" x2="411.9" y2="243.8" stroke="#6e6e6e" stroke-width="1.5"/>
<text x="271.0" y="247.30" class="xl" font-size="8.6">Stance</text>
<text x="271.0" y="256.50" class="xl" font-size="8.6">Time (s)</text>
<text x="312.3" y="247.30" class="xl" font-size="8.6">Swing</text>
<text x="312.3" y="256.50" class="xl" font-size="8.6">Time (s)</text>
<text x="352.6" y="247.30" class="xl" font-size="8.6">Stride</text>
<text x="352.6" y="256.50" class="xl" font-size="8.6">Length (m)</text>
<text x="392.9" y="247.30" class="xl" font-size="8.6">Walking</text>
<text x="392.9" y="256.50" class="xl" font-size="8.6">Time (s)</text>
<text x="433.5" y="247.30" class="xl" font-size="8.6">Walking</text>
<text x="433.5" y="256.50" class="xl" font-size="8.6">Speed (s)</text>
<line x1="256.74" y1="149.4" x2="256.74" y2="160.5" stroke="#262626" stroke-width="0.6"/>
<line x1="256.74" y1="177.0" x2="256.74" y2="185.9" stroke="#262626" stroke-width="0.6"/>
<line x1="254.77" y1="149.4" x2="258.71" y2="149.4" stroke="#262626" stroke-width="0.6"/>
<line x1="254.77" y1="185.9" x2="258.71" y2="185.9" stroke="#262626" stroke-width="0.6"/>
<rect x="253.60" y="160.5" width="6.28" height="16.50" fill="#E39F22" stroke="#262626" stroke-width="0.5"/>
<line x1="253.60" y1="171.0" x2="259.88" y2="171.0" stroke="#262626" stroke-width="0.7"/>
<circle cx="256.48" cy="149.40" r="0.85" fill="#FFA500" opacity="0.9"/>
<circle cx="255.84" cy="185.90" r="0.85" fill="#FFA500" opacity="0.9"/>
<circle cx="256.53" cy="160.08" r="0.85" fill="#FFA500" opacity="0.9"/>
<circle cx="256.69" cy="185.66" r="0.85" fill="#FFA500" opacity="0.9"/>
<circle cx="256.74" cy="169.53" r="0.85" fill="#FFA500" opacity="0.9"/>
<circle cx="256.20" cy="164.53" r="0.85" fill="#FFA500" opacity="0.9"/>
<circle cx="256.75" cy="176.43" r="0.85" fill="#FFA500" opacity="0.9"/>
<circle cx="255.85" cy="165.61" r="0.85" fill="#FFA500" opacity="0.9"/>
<line x1="263.32" y1="145.9" x2="263.32" y2="152.2" stroke="#262626" stroke-width="0.6"/>
<line x1="263.32" y1="165.0" x2="263.32" y2="173.4" stroke="#262626" stroke-width="0.6"/>
<line x1="261.35" y1="145.9" x2="265.29" y2="145.9" stroke="#262626" stroke-width="0.6"/>
<line x1="261.35" y1="173.4" x2="265.29" y2="173.4" stroke="#262626" stroke-width="0.6"/>
<rect x="260.18" y="152.2" width="6.28" height="12.80" fill="#E02424" stroke="#262626" stroke-width="0.5"/>
<line x1="260.18" y1="161.0" x2="266.46" y2="161.0" stroke="#262626" stroke-width="0.7"/>
<circle cx="262.84" cy="145.90" r="0.85" fill="#FF0000" opacity="0.9"/>
<circle cx="263.47" cy="173.40" r="0.85" fill="#FF0000" opacity="0.9"/>
<circle cx="263.37" cy="147.56" r="0.85" fill="#FF0000" opacity="0.9"/>
<circle cx="263.77" cy="165.75" r="0.85" fill="#FF0000" opacity="0.9"/>
<circle cx="263.60" cy="157.31" r="0.85" fill="#FF0000" opacity="0.9"/>
<circle cx="263.71" cy="152.73" r="0.85" fill="#FF0000" opacity="0.9"/>
<circle cx="264.00" cy="152.49" r="0.85" fill="#FF0000" opacity="0.9"/>
<circle cx="263.12" cy="156.09" r="0.85" fill="#FF0000" opacity="0.9"/>
<line x1="269.90" y1="150.0" x2="269.90" y2="153.6" stroke="#262626" stroke-width="0.6"/>
<line x1="269.90" y1="171.4" x2="269.90" y2="181.5" stroke="#262626" stroke-width="0.6"/>
<line x1="267.93" y1="150.0" x2="271.87" y2="150.0" stroke="#262626" stroke-width="0.6"/>
<line x1="267.93" y1="181.5" x2="271.87" y2="181.5" stroke="#262626" stroke-width="0.6"/>
<rect x="266.76" y="153.6" width="6.28" height="17.80" fill="#2424E0" stroke="#262626" stroke-width="0.5"/>
<line x1="266.76" y1="162.6" x2="273.04" y2="162.6" stroke="#262626" stroke-width="0.7"/>
<circle cx="269.08" cy="150.00" r="0.85" fill="#0000FF" opacity="0.9"/>
<circle cx="270.50" cy="181.50" r="0.85" fill="#0000FF" opacity="0.9"/>
<circle cx="270.61" cy="174.69" r="0.85" fill="#0000FF" opacity="0.9"/>
<circle cx="270.13" cy="171.13" r="0.85" fill="#0000FF" opacity="0.9"/>
<circle cx="270.32" cy="156.26" r="0.85" fill="#0000FF" opacity="0.9"/>
<circle cx="270.46" cy="166.49" r="0.85" fill="#0000FF" opacity="0.9"/>
<circle cx="269.25" cy="165.05" r="0.85" fill="#0000FF" opacity="0.9"/>
<line x1="276.48" y1="146.0" x2="276.48" y2="150.1" stroke="#262626" stroke-width="0.6"/>
<line x1="276.48" y1="163.4" x2="276.48" y2="169.4" stroke="#262626" stroke-width="0.6"/>
<line x1="274.51" y1="146.0" x2="278.45" y2="146.0" stroke="#262626" stroke-width="0.6"/>
<line x1="274.51" y1="169.4" x2="278.45" y2="169.4" stroke="#262626" stroke-width="0.6"/>
<rect x="273.34" y="150.1" width="6.28" height="13.30" fill="#137313" stroke="#262626" stroke-width="0.5"/>
<line x1="273.34" y1="159.1" x2="279.62" y2="159.1" stroke="#262626" stroke-width="0.7"/>
<circle cx="276.63" cy="146.00" r="0.85" fill="#008000" opacity="0.9"/>
<circle cx="277.19" cy="169.40" r="0.85" fill="#008000" opacity="0.9"/>
<circle cx="276.81" cy="166.54" r="0.85" fill="#008000" opacity="0.9"/>
<circle cx="276.83" cy="156.81" r="0.85" fill="#008000" opacity="0.9"/>
<circle cx="275.99" cy="161.20" r="0.85" fill="#008000" opacity="0.9"/>
<circle cx="275.64" cy="160.80" r="0.85" fill="#008000" opacity="0.9"/>
<circle cx="275.82" cy="161.09" r="0.85" fill="#008000" opacity="0.9"/>
<line x1="283.06" y1="139.0" x2="283.06" y2="151.1" stroke="#262626" stroke-width="0.6"/>
<line x1="283.06" y1="163.4" x2="283.06" y2="166.3" stroke="#262626" stroke-width="0.6"/>
<line x1="281.09" y1="139.0" x2="285.03" y2="139.0" stroke="#262626" stroke-width="0.6"/>
<line x1="281.09" y1="166.3" x2="285.03" y2="166.3" stroke="#262626" stroke-width="0.6"/>
<rect x="279.92" y="151.1" width="6.28" height="12.30" fill="#731373" stroke="#262626" stroke-width="0.5"/>
<line x1="279.92" y1="157.3" x2="286.20" y2="157.3" stroke="#262626" stroke-width="0.7"/>
<circle cx="283.39" cy="139.00" r="0.85" fill="#800080" opacity="0.9"/>
<circle cx="283.04" cy="166.30" r="0.85" fill="#800080" opacity="0.9"/>
<circle cx="282.17" cy="143.36" r="0.85" fill="#800080" opacity="0.9"/>
<circle cx="283.60" cy="140.27" r="0.85" fill="#800080" opacity="0.9"/>
<circle cx="283.51" cy="161.38" r="0.85" fill="#800080" opacity="0.9"/>
<circle cx="283.07" cy="157.97" r="0.85" fill="#800080" opacity="0.9"/>
<circle cx="283.12" cy="158.82" r="0.85" fill="#800080" opacity="0.9"/>
<circle cx="283.35" cy="158.80" r="0.85" fill="#800080" opacity="0.9"/>
<line x1="297.84" y1="189.3" x2="297.84" y2="193.6" stroke="#262626" stroke-width="0.6"/>
<line x1="297.84" y1="204.0" x2="297.84" y2="210.9" stroke="#262626" stroke-width="0.6"/>
<line x1="295.87" y1="189.3" x2="299.81" y2="189.3" stroke="#262626" stroke-width="0.6"/>
<line x1="295.87" y1="210.9" x2="299.81" y2="210.9" stroke="#262626" stroke-width="0.6"/>
<rect x="294.70" y="193.6" width="6.28" height="10.40" fill="#E39F22" stroke="#262626" stroke-width="0.5"/>
<line x1="294.70" y1="201.3" x2="300.98" y2="201.3" stroke="#262626" stroke-width="0.7"/>
<circle cx="298.25" cy="189.30" r="0.85" fill="#FFA500" opacity="0.9"/>
<circle cx="297.31" cy="210.90" r="0.85" fill="#FFA500" opacity="0.9"/>
<circle cx="298.27" cy="204.46" r="0.85" fill="#FFA500" opacity="0.9"/>
<circle cx="298.70" cy="201.26" r="0.85" fill="#FFA500" opacity="0.9"/>
<circle cx="297.83" cy="196.22" r="0.85" fill="#FFA500" opacity="0.9"/>
<circle cx="297.63" cy="194.37" r="0.85" fill="#FFA500" opacity="0.9"/>
<circle cx="297.80" cy="196.36" r="0.85" fill="#FFA500" opacity="0.9"/>
<line x1="304.42" y1="195.2" x2="304.42" y2="200.5" stroke="#262626" stroke-width="0.6"/>
<line x1="304.42" y1="208.4" x2="304.42" y2="209.8" stroke="#262626" stroke-width="0.6"/>
<line x1="302.45" y1="195.2" x2="306.39" y2="195.2" stroke="#262626" stroke-width="0.6"/>
<line x1="302.45" y1="209.8" x2="306.39" y2="209.8" stroke="#262626" stroke-width="0.6"/>
<rect x="301.28" y="200.5" width="6.28" height="7.90" fill="#E02424" stroke="#262626" stroke-width="0.5"/>
<line x1="301.28" y1="204.8" x2="307.56" y2="204.8" stroke="#262626" stroke-width="0.7"/>
<circle cx="304.42" cy="221.9" r="1.35" fill="none" stroke="#262626" stroke-width="0.5"/>
<circle cx="303.66" cy="195.20" r="0.85" fill="#FF0000" opacity="0.9"/>
<circle cx="303.79" cy="209.80" r="0.85" fill="#FF0000" opacity="0.9"/>
<circle cx="303.98" cy="221.90" r="0.85" fill="#FF0000" opacity="0.9"/>
<circle cx="304.86" cy="205.90" r="0.85" fill="#FF0000" opacity="0.9"/>
<circle cx="304.07" cy="206.56" r="0.85" fill="#FF0000" opacity="0.9"/>
<circle cx="304.54" cy="205.37" r="0.85" fill="#FF0000" opacity="0.9"/>
<circle cx="303.54" cy="205.58" r="0.85" fill="#FF0000" opacity="0.9"/>
<line x1="311.00" y1="196.0" x2="311.00" y2="202.9" stroke="#262626" stroke-width="0.6"/>
<line x1="311.00" y1="207.2" x2="311.00" y2="210.1" stroke="#262626" stroke-width="0.6"/>
<line x1="309.03" y1="196.0" x2="312.97" y2="196.0" stroke="#262626" stroke-width="0.6"/>
<line x1="309.03" y1="210.1" x2="312.97" y2="210.1" stroke="#262626" stroke-width="0.6"/>
<rect x="307.86" y="202.9" width="6.28" height="4.30" fill="#2424E0" stroke="#262626" stroke-width="0.5"/>
<line x1="307.86" y1="205.0" x2="314.14" y2="205.0" stroke="#262626" stroke-width="0.7"/>
<circle cx="311.00" cy="219.7" r="1.35" fill="none" stroke="#262626" stroke-width="0.5"/>
<circle cx="310.62" cy="196.00" r="0.85" fill="#0000FF" opacity="0.9"/>
<circle cx="311.03" cy="210.10" r="0.85" fill="#0000FF" opacity="0.9"/>
<circle cx="310.94" cy="219.70" r="0.85" fill="#0000FF" opacity="0.9"/>
<circle cx="310.94" cy="196.42" r="0.85" fill="#0000FF" opacity="0.9"/>
<circle cx="310.31" cy="204.06" r="0.85" fill="#0000FF" opacity="0.9"/>
<circle cx="311.71" cy="205.79" r="0.85" fill="#0000FF" opacity="0.9"/>
<circle cx="310.46" cy="205.88" r="0.85" fill="#0000FF" opacity="0.9"/>
<circle cx="311.86" cy="205.81" r="0.85" fill="#0000FF" opacity="0.9"/>
<line x1="317.58" y1="194.2" x2="317.58" y2="201.3" stroke="#262626" stroke-width="0.6"/>
<line x1="317.58" y1="208.3" x2="317.58" y2="210.0" stroke="#262626" stroke-width="0.6"/>
<line x1="315.61" y1="194.2" x2="319.55" y2="194.2" stroke="#262626" stroke-width="0.6"/>
<line x1="315.61" y1="210.0" x2="319.55" y2="210.0" stroke="#262626" stroke-width="0.6"/>
<rect x="314.44" y="201.3" width="6.28" height="7.00" fill="#137313" stroke="#262626" stroke-width="0.5"/>
<line x1="314.44" y1="205.0" x2="320.72" y2="205.0" stroke="#262626" stroke-width="0.7"/>
<circle cx="317.58" cy="224.3" r="1.35" fill="none" stroke="#262626" stroke-width="0.5"/>
<circle cx="317.49" cy="194.20" r="0.85" fill="#008000" opacity="0.9"/>
<circle cx="317.16" cy="210.00" r="0.85" fill="#008000" opacity="0.9"/>
<circle cx="317.06" cy="224.30" r="0.85" fill="#008000" opacity="0.9"/>
<circle cx="318.38" cy="200.85" r="0.85" fill="#008000" opacity="0.9"/>
<circle cx="317.06" cy="201.42" r="0.85" fill="#008000" opacity="0.9"/>
<circle cx="317.73" cy="204.51" r="0.85" fill="#008000" opacity="0.9"/>
<circle cx="316.94" cy="207.04" r="0.85" fill="#008000" opacity="0.9"/>
<circle cx="317.62" cy="208.08" r="0.85" fill="#008000" opacity="0.9"/>
<line x1="324.16" y1="198.4" x2="324.16" y2="200.8" stroke="#262626" stroke-width="0.6"/>
<line x1="324.16" y1="205.6" x2="324.16" y2="211.7" stroke="#262626" stroke-width="0.6"/>
<line x1="322.19" y1="198.4" x2="326.13" y2="198.4" stroke="#262626" stroke-width="0.6"/>
<line x1="322.19" y1="211.7" x2="326.13" y2="211.7" stroke="#262626" stroke-width="0.6"/>
<rect x="321.02" y="200.8" width="6.28" height="4.80" fill="#731373" stroke="#262626" stroke-width="0.5"/>
<line x1="321.02" y1="203.5" x2="327.30" y2="203.5" stroke="#262626" stroke-width="0.7"/>
<circle cx="324.16" cy="191.5" r="1.35" fill="none" stroke="#262626" stroke-width="0.5"/>
<circle cx="324.53" cy="198.40" r="0.85" fill="#800080" opacity="0.9"/>
<circle cx="323.68" cy="211.70" r="0.85" fill="#800080" opacity="0.9"/>
<circle cx="324.88" cy="191.50" r="0.85" fill="#800080" opacity="0.9"/>
<circle cx="324.14" cy="211.41" r="0.85" fill="#800080" opacity="0.9"/>
<circle cx="323.30" cy="201.44" r="0.85" fill="#800080" opacity="0.9"/>
<circle cx="323.27" cy="204.74" r="0.85" fill="#800080" opacity="0.9"/>
<circle cx="324.15" cy="203.24" r="0.85" fill="#800080" opacity="0.9"/>
<circle cx="324.07" cy="205.06" r="0.85" fill="#800080" opacity="0.9"/>
<line x1="338.94" y1="54.2" x2="338.94" y2="59.5" stroke="#262626" stroke-width="0.6"/>
<line x1="338.94" y1="72.4" x2="338.94" y2="87.2" stroke="#262626" stroke-width="0.6"/>
<line x1="336.97" y1="54.2" x2="340.91" y2="54.2" stroke="#262626" stroke-width="0.6"/>
<line x1="336.97" y1="87.2" x2="340.91" y2="87.2" stroke="#262626" stroke-width="0.6"/>
<rect x="335.80" y="59.5" width="6.28" height="12.90" fill="#E39F22" stroke="#262626" stroke-width="0.5"/>
<line x1="335.80" y1="65.1" x2="342.08" y2="65.1" stroke="#262626" stroke-width="0.7"/>
<circle cx="338.94" cy="107.1" r="1.35" fill="none" stroke="#262626" stroke-width="0.5"/>
<circle cx="339.39" cy="54.20" r="0.85" fill="#FFA500" opacity="0.9"/>
<circle cx="339.55" cy="87.20" r="0.85" fill="#FFA500" opacity="0.9"/>
<circle cx="338.26" cy="107.10" r="0.85" fill="#FFA500" opacity="0.9"/>
<circle cx="339.71" cy="76.87" r="0.85" fill="#FFA500" opacity="0.9"/>
<circle cx="339.32" cy="74.48" r="0.85" fill="#FFA500" opacity="0.9"/>
<circle cx="339.66" cy="63.94" r="0.85" fill="#FFA500" opacity="0.9"/>
<circle cx="338.56" cy="63.58" r="0.85" fill="#FFA500" opacity="0.9"/>
<circle cx="338.71" cy="70.34" r="0.85" fill="#FFA500" opacity="0.9"/>
<circle cx="338.75" cy="59.52" r="0.85" fill="#FFA500" opacity="0.9"/>
<line x1="345.52" y1="40.6" x2="345.52" y2="55.0" stroke="#262626" stroke-width="0.6"/>
<line x1="345.52" y1="68.8" x2="345.52" y2="84.8" stroke="#262626" stroke-width="0.6"/>
<line x1="343.55" y1="40.6" x2="347.49" y2="40.6" stroke="#262626" stroke-width="0.6"/>
<line x1="343.55" y1="84.8" x2="347.49" y2="84.8" stroke="#262626" stroke-width="0.6"/>
<rect x="342.38" y="55.0" width="6.28" height="13.80" fill="#E02424" stroke="#262626" stroke-width="0.5"/>
<line x1="342.38" y1="61.0" x2="348.66" y2="61.0" stroke="#262626" stroke-width="0.7"/>
<circle cx="345.52" cy="94.5" r="1.35" fill="none" stroke="#262626" stroke-width="0.5"/>
<circle cx="345.13" cy="40.60" r="0.85" fill="#FF0000" opacity="0.9"/>
<circle cx="346.30" cy="84.80" r="0.85" fill="#FF0000" opacity="0.9"/>
<circle cx="345.07" cy="94.50" r="0.85" fill="#FF0000" opacity="0.9"/>
<circle cx="345.10" cy="54.98" r="0.85" fill="#FF0000" opacity="0.9"/>
<circle cx="345.54" cy="49.08" r="0.85" fill="#FF0000" opacity="0.9"/>
<circle cx="344.96" cy="74.57" r="0.85" fill="#FF0000" opacity="0.9"/>
<circle cx="345.29" cy="75.65" r="0.85" fill="#FF0000" opacity="0.9"/>
<circle cx="346.34" cy="58.80" r="0.85" fill="#FF0000" opacity="0.9"/>
<circle cx="346.21" cy="55.67" r="0.85" fill="#FF0000" opacity="0.9"/>
<circle cx="346.08" cy="56.40" r="0.85" fill="#FF0000" opacity="0.9"/>
<circle cx="345.76" cy="66.52" r="0.85" fill="#FF0000" opacity="0.9"/>
<line x1="352.10" y1="39.0" x2="352.10" y2="57.4" stroke="#262626" stroke-width="0.6"/>
<line x1="352.10" y1="69.4" x2="352.10" y2="88.4" stroke="#262626" stroke-width="0.6"/>
<line x1="350.13" y1="39.0" x2="354.07" y2="39.0" stroke="#262626" stroke-width="0.6"/>
<line x1="350.13" y1="88.4" x2="354.07" y2="88.4" stroke="#262626" stroke-width="0.6"/>
<rect x="348.96" y="57.4" width="6.28" height="12.00" fill="#2424E0" stroke="#262626" stroke-width="0.5"/>
<line x1="348.96" y1="61.4" x2="355.24" y2="61.4" stroke="#262626" stroke-width="0.7"/>
<circle cx="352.36" cy="39.00" r="0.85" fill="#0000FF" opacity="0.9"/>
<circle cx="351.72" cy="88.40" r="0.85" fill="#0000FF" opacity="0.9"/>
<circle cx="351.29" cy="55.81" r="0.85" fill="#0000FF" opacity="0.9"/>
<circle cx="352.87" cy="56.31" r="0.85" fill="#0000FF" opacity="0.9"/>
<circle cx="351.43" cy="79.84" r="0.85" fill="#0000FF" opacity="0.9"/>
<circle cx="352.05" cy="83.07" r="0.85" fill="#0000FF" opacity="0.9"/>
<circle cx="351.82" cy="57.99" r="0.85" fill="#0000FF" opacity="0.9"/>
<circle cx="351.74" cy="66.19" r="0.85" fill="#0000FF" opacity="0.9"/>
<circle cx="352.53" cy="62.81" r="0.85" fill="#0000FF" opacity="0.9"/>
<circle cx="352.96" cy="66.43" r="0.85" fill="#0000FF" opacity="0.9"/>
<line x1="358.68" y1="57.5" x2="358.68" y2="59.2" stroke="#262626" stroke-width="0.6"/>
<line x1="358.68" y1="69.8" x2="358.68" y2="76.5" stroke="#262626" stroke-width="0.6"/>
<line x1="356.71" y1="57.5" x2="360.65" y2="57.5" stroke="#262626" stroke-width="0.6"/>
<line x1="356.71" y1="76.5" x2="360.65" y2="76.5" stroke="#262626" stroke-width="0.6"/>
<rect x="355.54" y="59.2" width="6.28" height="10.60" fill="#137313" stroke="#262626" stroke-width="0.5"/>
<line x1="355.54" y1="61.5" x2="361.82" y2="61.5" stroke="#262626" stroke-width="0.7"/>
<circle cx="358.68" cy="43.0" r="1.35" fill="none" stroke="#262626" stroke-width="0.5"/>
<circle cx="358.68" cy="93.7" r="1.35" fill="none" stroke="#262626" stroke-width="0.5"/>
<circle cx="358.08" cy="57.50" r="0.85" fill="#008000" opacity="0.9"/>
<circle cx="358.07" cy="76.50" r="0.85" fill="#008000" opacity="0.9"/>
<circle cx="358.15" cy="43.00" r="0.85" fill="#008000" opacity="0.9"/>
<circle cx="359.41" cy="93.70" r="0.85" fill="#008000" opacity="0.9"/>
<circle cx="358.67" cy="71.54" r="0.85" fill="#008000" opacity="0.9"/>
<circle cx="358.18" cy="66.15" r="0.85" fill="#008000" opacity="0.9"/>
<circle cx="359.41" cy="62.39" r="0.85" fill="#008000" opacity="0.9"/>
<circle cx="359.57" cy="65.11" r="0.85" fill="#008000" opacity="0.9"/>
<circle cx="358.59" cy="63.38" r="0.85" fill="#008000" opacity="0.9"/>
<line x1="365.26" y1="41.4" x2="365.26" y2="57.1" stroke="#262626" stroke-width="0.6"/>
<line x1="365.26" y1="69.7" x2="365.26" y2="87.2" stroke="#262626" stroke-width="0.6"/>
<line x1="363.29" y1="41.4" x2="367.23" y2="41.4" stroke="#262626" stroke-width="0.6"/>
<line x1="363.29" y1="87.2" x2="367.23" y2="87.2" stroke="#262626" stroke-width="0.6"/>
<rect x="362.12" y="57.1" width="6.28" height="12.60" fill="#731373" stroke="#262626" stroke-width="0.5"/>
<line x1="362.12" y1="63.0" x2="368.40" y2="63.0" stroke="#262626" stroke-width="0.7"/>
<circle cx="365.96" cy="41.40" r="0.85" fill="#800080" opacity="0.9"/>
<circle cx="365.71" cy="87.20" r="0.85" fill="#800080" opacity="0.9"/>
<circle cx="365.10" cy="43.59" r="0.85" fill="#800080" opacity="0.9"/>
<circle cx="365.10" cy="44.42" r="0.85" fill="#800080" opacity="0.9"/>
<circle cx="365.30" cy="71.29" r="0.85" fill="#800080" opacity="0.9"/>
<circle cx="365.04" cy="75.68" r="0.85" fill="#800080" opacity="0.9"/>
<circle cx="364.97" cy="58.25" r="0.85" fill="#800080" opacity="0.9"/>
<circle cx="364.47" cy="60.11" r="0.85" fill="#800080" opacity="0.9"/>
<circle cx="364.86" cy="60.36" r="0.85" fill="#800080" opacity="0.9"/>
<circle cx="366.10" cy="64.28" r="0.85" fill="#800080" opacity="0.9"/>
<line x1="380.04" y1="60.8" x2="380.04" y2="77.2" stroke="#262626" stroke-width="0.6"/>
<line x1="380.04" y1="102.8" x2="380.04" y2="121.9" stroke="#262626" stroke-width="0.6"/>
<line x1="378.07" y1="60.8" x2="382.01" y2="60.8" stroke="#262626" stroke-width="0.6"/>
<line x1="378.07" y1="121.9" x2="382.01" y2="121.9" stroke="#262626" stroke-width="0.6"/>
<rect x="376.90" y="77.2" width="6.28" height="25.60" fill="#E39F22" stroke="#262626" stroke-width="0.5"/>
<line x1="376.90" y1="93.2" x2="383.18" y2="93.2" stroke="#262626" stroke-width="0.7"/>
<circle cx="379.94" cy="60.80" r="0.85" fill="#FFA500" opacity="0.9"/>
<circle cx="380.86" cy="121.90" r="0.85" fill="#FFA500" opacity="0.9"/>
<circle cx="380.67" cy="62.86" r="0.85" fill="#FFA500" opacity="0.9"/>
<circle cx="380.71" cy="69.06" r="0.85" fill="#FFA500" opacity="0.9"/>
<circle cx="379.18" cy="114.83" r="0.85" fill="#FFA500" opacity="0.9"/>
<circle cx="379.20" cy="119.28" r="0.85" fill="#FFA500" opacity="0.9"/>
<circle cx="380.42" cy="82.73" r="0.85" fill="#FFA500" opacity="0.9"/>
<circle cx="380.75" cy="84.14" r="0.85" fill="#FFA500" opacity="0.9"/>
<circle cx="379.99" cy="83.56" r="0.85" fill="#FFA500" opacity="0.9"/>
<circle cx="380.20" cy="87.43" r="0.85" fill="#FFA500" opacity="0.9"/>
<line x1="386.62" y1="63.2" x2="386.62" y2="76.6" stroke="#262626" stroke-width="0.6"/>
<line x1="386.62" y1="92.4" x2="386.62" y2="114.7" stroke="#262626" stroke-width="0.6"/>
<line x1="384.65" y1="63.2" x2="388.59" y2="63.2" stroke="#262626" stroke-width="0.6"/>
<line x1="384.65" y1="114.7" x2="388.59" y2="114.7" stroke="#262626" stroke-width="0.6"/>
<rect x="383.48" y="76.6" width="6.28" height="15.80" fill="#E02424" stroke="#262626" stroke-width="0.5"/>
<line x1="383.48" y1="88.4" x2="389.76" y2="88.4" stroke="#262626" stroke-width="0.7"/>
<circle cx="386.00" cy="63.20" r="0.85" fill="#FF0000" opacity="0.9"/>
<circle cx="386.66" cy="114.70" r="0.85" fill="#FF0000" opacity="0.9"/>
<circle cx="386.95" cy="63.20" r="0.85" fill="#FF0000" opacity="0.9"/>
<circle cx="387.41" cy="68.45" r="0.85" fill="#FF0000" opacity="0.9"/>
<circle cx="387.02" cy="113.07" r="0.85" fill="#FF0000" opacity="0.9"/>
<circle cx="386.89" cy="110.81" r="0.85" fill="#FF0000" opacity="0.9"/>
<circle cx="387.10" cy="90.12" r="0.85" fill="#FF0000" opacity="0.9"/>
<circle cx="386.54" cy="91.96" r="0.85" fill="#FF0000" opacity="0.9"/>
<circle cx="386.71" cy="80.53" r="0.85" fill="#FF0000" opacity="0.9"/>
<circle cx="385.79" cy="78.32" r="0.85" fill="#FF0000" opacity="0.9"/>
<line x1="393.20" y1="68.0" x2="393.20" y2="79.2" stroke="#262626" stroke-width="0.6"/>
<line x1="393.20" y1="94.8" x2="393.20" y2="115.0" stroke="#262626" stroke-width="0.6"/>
<line x1="391.23" y1="68.0" x2="395.17" y2="68.0" stroke="#262626" stroke-width="0.6"/>
<line x1="391.23" y1="115.0" x2="395.17" y2="115.0" stroke="#262626" stroke-width="0.6"/>
<rect x="390.06" y="79.2" width="6.28" height="15.60" fill="#2424E0" stroke="#262626" stroke-width="0.5"/>
<line x1="390.06" y1="88.9" x2="396.34" y2="88.9" stroke="#262626" stroke-width="0.7"/>
<circle cx="393.45" cy="68.00" r="0.85" fill="#0000FF" opacity="0.9"/>
<circle cx="393.56" cy="115.00" r="0.85" fill="#0000FF" opacity="0.9"/>
<circle cx="392.50" cy="76.76" r="0.85" fill="#0000FF" opacity="0.9"/>
<circle cx="392.43" cy="99.50" r="0.85" fill="#0000FF" opacity="0.9"/>
<circle cx="393.24" cy="113.38" r="0.85" fill="#0000FF" opacity="0.9"/>
<circle cx="393.35" cy="89.27" r="0.85" fill="#0000FF" opacity="0.9"/>
<circle cx="393.00" cy="83.94" r="0.85" fill="#0000FF" opacity="0.9"/>
<circle cx="392.70" cy="81.20" r="0.85" fill="#0000FF" opacity="0.9"/>
<circle cx="393.38" cy="83.13" r="0.85" fill="#0000FF" opacity="0.9"/>
<line x1="399.78" y1="74.5" x2="399.78" y2="81.5" stroke="#262626" stroke-width="0.6"/>
<line x1="399.78" y1="91.6" x2="399.78" y2="96.7" stroke="#262626" stroke-width="0.6"/>
<line x1="397.81" y1="74.5" x2="401.75" y2="74.5" stroke="#262626" stroke-width="0.6"/>
<line x1="397.81" y1="96.7" x2="401.75" y2="96.7" stroke="#262626" stroke-width="0.6"/>
<rect x="396.64" y="81.5" width="6.28" height="10.10" fill="#137313" stroke="#262626" stroke-width="0.5"/>
<line x1="396.64" y1="88.9" x2="402.92" y2="88.9" stroke="#262626" stroke-width="0.7"/>
<circle cx="399.78" cy="64.0" r="1.35" fill="none" stroke="#262626" stroke-width="0.5"/>
<circle cx="399.78" cy="115.0" r="1.35" fill="none" stroke="#262626" stroke-width="0.5"/>
<circle cx="400.47" cy="74.50" r="0.85" fill="#008000" opacity="0.9"/>
<circle cx="399.74" cy="96.70" r="0.85" fill="#008000" opacity="0.9"/>
<circle cx="399.30" cy="64.00" r="0.85" fill="#008000" opacity="0.9"/>
<circle cx="399.32" cy="115.00" r="0.85" fill="#008000" opacity="0.9"/>
<circle cx="400.61" cy="74.57" r="0.85" fill="#008000" opacity="0.9"/>
<circle cx="400.15" cy="84.55" r="0.85" fill="#008000" opacity="0.9"/>
<circle cx="399.43" cy="86.15" r="0.85" fill="#008000" opacity="0.9"/>
<circle cx="398.92" cy="91.19" r="0.85" fill="#008000" opacity="0.9"/>
<circle cx="399.78" cy="88.01" r="0.85" fill="#008000" opacity="0.9"/>
<line x1="406.36" y1="52.5" x2="406.36" y2="75.0" stroke="#262626" stroke-width="0.6"/>
<line x1="406.36" y1="91.6" x2="406.36" y2="102.7" stroke="#262626" stroke-width="0.6"/>
<line x1="404.39" y1="52.5" x2="408.33" y2="52.5" stroke="#262626" stroke-width="0.6"/>
<line x1="404.39" y1="102.7" x2="408.33" y2="102.7" stroke="#262626" stroke-width="0.6"/>
<rect x="403.22" y="75.0" width="6.28" height="16.60" fill="#731373" stroke="#262626" stroke-width="0.5"/>
<line x1="403.22" y1="82.3" x2="409.50" y2="82.3" stroke="#262626" stroke-width="0.7"/>
<circle cx="406.07" cy="52.50" r="0.85" fill="#800080" opacity="0.9"/>
<circle cx="406.22" cy="102.70" r="0.85" fill="#800080" opacity="0.9"/>
<circle cx="406.69" cy="67.68" r="0.85" fill="#800080" opacity="0.9"/>
<circle cx="405.82" cy="61.95" r="0.85" fill="#800080" opacity="0.9"/>
<circle cx="406.89" cy="94.46" r="0.85" fill="#800080" opacity="0.9"/>
<circle cx="406.79" cy="86.08" r="0.85" fill="#800080" opacity="0.9"/>
<circle cx="406.37" cy="90.36" r="0.85" fill="#800080" opacity="0.9"/>
<circle cx="405.83" cy="78.76" r="0.85" fill="#800080" opacity="0.9"/>
<circle cx="407.21" cy="75.57" r="0.85" fill="#800080" opacity="0.9"/>
<line x1="421.14" y1="60.5" x2="421.14" y2="83.6" stroke="#262626" stroke-width="0.6"/>
<line x1="421.14" y1="117.2" x2="421.14" y2="156.2" stroke="#262626" stroke-width="0.6"/>
<line x1="419.17" y1="60.5" x2="423.11" y2="60.5" stroke="#262626" stroke-width="0.6"/>
<line x1="419.17" y1="156.2" x2="423.11" y2="156.2" stroke="#262626" stroke-width="0.6"/>
<rect x="418.00" y="83.6" width="6.28" height="33.60" fill="#E39F22" stroke="#262626" stroke-width="0.5"/>
<line x1="418.00" y1="101.2" x2="424.28" y2="101.2" stroke="#262626" stroke-width="0.7"/>
<circle cx="420.58" cy="60.50" r="0.85" fill="#FFA500" opacity="0.9"/>
<circle cx="420.64" cy="156.20" r="0.85" fill="#FFA500" opacity="0.9"/>
<circle cx="420.99" cy="67.70" r="0.85" fill="#FFA500" opacity="0.9"/>
<circle cx="421.44" cy="79.44" r="0.85" fill="#FFA500" opacity="0.9"/>
<circle cx="421.95" cy="126.20" r="0.85" fill="#FFA500" opacity="0.9"/>
<circle cx="420.50" cy="125.84" r="0.85" fill="#FFA500" opacity="0.9"/>
<circle cx="420.95" cy="109.15" r="0.85" fill="#FFA500" opacity="0.9"/>
<circle cx="420.62" cy="93.51" r="0.85" fill="#FFA500" opacity="0.9"/>
<circle cx="421.99" cy="115.58" r="0.85" fill="#FFA500" opacity="0.9"/>
<circle cx="420.50" cy="100.26" r="0.85" fill="#FFA500" opacity="0.9"/>
<line x1="427.72" y1="65.3" x2="427.72" y2="84.4" stroke="#262626" stroke-width="0.6"/>
<line x1="427.72" y1="118.0" x2="427.72" y2="145.4" stroke="#262626" stroke-width="0.6"/>
<line x1="425.75" y1="65.3" x2="429.69" y2="65.3" stroke="#262626" stroke-width="0.6"/>
<line x1="425.75" y1="145.4" x2="429.69" y2="145.4" stroke="#262626" stroke-width="0.6"/>
<rect x="424.58" y="84.4" width="6.28" height="33.60" fill="#E02424" stroke="#262626" stroke-width="0.5"/>
<line x1="424.58" y1="104.4" x2="430.86" y2="104.4" stroke="#262626" stroke-width="0.7"/>
<circle cx="427.41" cy="65.30" r="0.85" fill="#FF0000" opacity="0.9"/>
<circle cx="427.15" cy="145.40" r="0.85" fill="#FF0000" opacity="0.9"/>
<circle cx="428.50" cy="66.29" r="0.85" fill="#FF0000" opacity="0.9"/>
<circle cx="428.16" cy="66.45" r="0.85" fill="#FF0000" opacity="0.9"/>
<circle cx="426.88" cy="128.78" r="0.85" fill="#FF0000" opacity="0.9"/>
<circle cx="428.02" cy="142.61" r="0.85" fill="#FF0000" opacity="0.9"/>
<circle cx="427.50" cy="114.09" r="0.85" fill="#FF0000" opacity="0.9"/>
<circle cx="427.49" cy="109.02" r="0.85" fill="#FF0000" opacity="0.9"/>
<circle cx="427.42" cy="117.92" r="0.85" fill="#FF0000" opacity="0.9"/>
<circle cx="427.12" cy="115.70" r="0.85" fill="#FF0000" opacity="0.9"/>
<line x1="434.30" y1="66.1" x2="434.30" y2="84.8" stroke="#262626" stroke-width="0.6"/>
<line x1="434.30" y1="114.5" x2="434.30" y2="131.8" stroke="#262626" stroke-width="0.6"/>
<line x1="432.33" y1="66.1" x2="436.27" y2="66.1" stroke="#262626" stroke-width="0.6"/>
<line x1="432.33" y1="131.8" x2="436.27" y2="131.8" stroke="#262626" stroke-width="0.6"/>
<rect x="431.16" y="84.8" width="6.28" height="29.70" fill="#2424E0" stroke="#262626" stroke-width="0.5"/>
<line x1="431.16" y1="104.1" x2="437.44" y2="104.1" stroke="#262626" stroke-width="0.7"/>
<circle cx="434.88" cy="66.10" r="0.85" fill="#0000FF" opacity="0.9"/>
<circle cx="434.88" cy="131.80" r="0.85" fill="#0000FF" opacity="0.9"/>
<circle cx="434.18" cy="66.15" r="0.85" fill="#0000FF" opacity="0.9"/>
<circle cx="433.49" cy="71.33" r="0.85" fill="#0000FF" opacity="0.9"/>
<circle cx="434.25" cy="120.58" r="0.85" fill="#0000FF" opacity="0.9"/>
<circle cx="434.07" cy="131.03" r="0.85" fill="#0000FF" opacity="0.9"/>
<circle cx="435.06" cy="88.47" r="0.85" fill="#0000FF" opacity="0.9"/>
<circle cx="433.75" cy="113.44" r="0.85" fill="#0000FF" opacity="0.9"/>
<circle cx="434.06" cy="90.96" r="0.85" fill="#0000FF" opacity="0.9"/>
<circle cx="435.01" cy="95.39" r="0.85" fill="#0000FF" opacity="0.9"/>
<line x1="440.88" y1="71.2" x2="440.88" y2="95.3" stroke="#262626" stroke-width="0.6"/>
<line x1="440.88" y1="113.7" x2="440.88" y2="130.7" stroke="#262626" stroke-width="0.6"/>
<line x1="438.91" y1="71.2" x2="442.85" y2="71.2" stroke="#262626" stroke-width="0.6"/>
<line x1="438.91" y1="130.7" x2="442.85" y2="130.7" stroke="#262626" stroke-width="0.6"/>
<rect x="437.74" y="95.3" width="6.28" height="18.40" fill="#137313" stroke="#262626" stroke-width="0.5"/>
<line x1="437.74" y1="109.2" x2="444.02" y2="109.2" stroke="#262626" stroke-width="0.7"/>
<circle cx="440.44" cy="71.20" r="0.85" fill="#008000" opacity="0.9"/>
<circle cx="441.33" cy="130.70" r="0.85" fill="#008000" opacity="0.9"/>
<circle cx="441.60" cy="71.93" r="0.85" fill="#008000" opacity="0.9"/>
<circle cx="440.59" cy="81.10" r="0.85" fill="#008000" opacity="0.9"/>
<circle cx="440.47" cy="127.50" r="0.85" fill="#008000" opacity="0.9"/>
<circle cx="441.70" cy="126.73" r="0.85" fill="#008000" opacity="0.9"/>
<circle cx="441.09" cy="96.05" r="0.85" fill="#008000" opacity="0.9"/>
<circle cx="440.45" cy="95.94" r="0.85" fill="#008000" opacity="0.9"/>
<circle cx="441.27" cy="96.45" r="0.85" fill="#008000" opacity="0.9"/>
<circle cx="440.55" cy="112.23" r="0.85" fill="#008000" opacity="0.9"/>
<line x1="447.46" y1="83.2" x2="447.46" y2="95.0" stroke="#262626" stroke-width="0.6"/>
<line x1="447.46" y1="123.7" x2="447.46" y2="134.6" stroke="#262626" stroke-width="0.6"/>
<line x1="445.49" y1="83.2" x2="449.43" y2="83.2" stroke="#262626" stroke-width="0.6"/>
<line x1="445.49" y1="134.6" x2="449.43" y2="134.6" stroke="#262626" stroke-width="0.6"/>
<rect x="444.32" y="95.0" width="6.28" height="28.70" fill="#731373" stroke="#262626" stroke-width="0.5"/>
<line x1="444.32" y1="107.1" x2="450.60" y2="107.1" stroke="#262626" stroke-width="0.7"/>
<circle cx="446.60" cy="83.20" r="0.85" fill="#800080" opacity="0.9"/>
<circle cx="446.98" cy="134.60" r="0.85" fill="#800080" opacity="0.9"/>
<circle cx="447.42" cy="86.45" r="0.85" fill="#800080" opacity="0.9"/>
<circle cx="448.28" cy="123.74" r="0.85" fill="#800080" opacity="0.9"/>
<circle cx="448.28" cy="116.69" r="0.85" fill="#800080" opacity="0.9"/>
<circle cx="447.26" cy="121.30" r="0.85" fill="#800080" opacity="0.9"/>
<circle cx="447.01" cy="113.20" r="0.85" fill="#800080" opacity="0.9"/>
<circle cx="447.33" cy="122.07" r="0.85" fill="#800080" opacity="0.9"/>
<line x1="476.7" y1="30.5" x2="681.9" y2="30.5" stroke="#dcdcdc" stroke-width="1"/>
<line x1="475.4" y1="30.5" x2="476.7" y2="30.5" stroke="#bbbbbb" stroke-width="1"/>
<line x1="476.7" y1="61.667" x2="681.9" y2="61.667" stroke="#dcdcdc" stroke-width="1"/>
<line x1="475.4" y1="61.667" x2="476.7" y2="61.667" stroke="#bbbbbb" stroke-width="1"/>
<line x1="476.7" y1="92.834" x2="681.9" y2="92.834" stroke="#dcdcdc" stroke-width="1"/>
<line x1="475.4" y1="92.834" x2="476.7" y2="92.834" stroke="#bbbbbb" stroke-width="1"/>
<line x1="476.7" y1="124.001" x2="681.9" y2="124.001" stroke="#dcdcdc" stroke-width="1"/>
<line x1="475.4" y1="124.001" x2="476.7" y2="124.001" stroke="#bbbbbb" stroke-width="1"/>
<line x1="476.7" y1="155.168" x2="681.9" y2="155.168" stroke="#dcdcdc" stroke-width="1"/>
<line x1="475.4" y1="155.168" x2="476.7" y2="155.168" stroke="#bbbbbb" stroke-width="1"/>
<line x1="476.7" y1="186.335" x2="681.9" y2="186.335" stroke="#dcdcdc" stroke-width="1"/>
<line x1="475.4" y1="186.335" x2="476.7" y2="186.335" stroke="#bbbbbb" stroke-width="1"/>
<line x1="476.7" y1="217.502" x2="681.9" y2="217.502" stroke="#dcdcdc" stroke-width="1"/>
<line x1="475.4" y1="217.502" x2="476.7" y2="217.502" stroke="#bbbbbb" stroke-width="1"/>
<line x1="476.7" y1="30" x2="476.7" y2="234.5" stroke="#c4c4c4" stroke-width="1.1"/>
<line x1="476.7" y1="234.5" x2="681.9" y2="234.5" stroke="#c4c4c4" stroke-width="1.2"/>
<text x="474.0" y="33.8" class="tk">1.6</text>
<text x="474.0" y="64.967" class="tk">1.4</text>
<text x="474.0" y="96.134" class="tk">1.2</text>
<text x="474.0" y="127.301" class="tk">1.0</text>
<text x="474.0" y="158.46800000000002" class="tk">0.8</text>
<text x="474.0" y="189.63500000000002" class="tk">0.6</text>
<text x="474.0" y="220.80200000000002" class="tk">0.4</text>
<text x="570.6" y="28.2" class="ti">Group2</text>
<line x1="520.1" y1="224" x2="520.1" y2="243.8" stroke="#6e6e6e" stroke-width="1.5"/>
<line x1="560.6" y1="224" x2="560.6" y2="243.8" stroke="#6e6e6e" stroke-width="1.5"/>
<line x1="601.0" y1="224" x2="601.0" y2="243.8" stroke="#6e6e6e" stroke-width="1.5"/>
<line x1="640.8" y1="224" x2="640.8" y2="243.8" stroke="#6e6e6e" stroke-width="1.5"/>
<text x="500.0" y="246.70" class="xl" font-size="8">Stance</text>
<text x="500.0" y="255.90" class="xl" font-size="8">Time (s)</text>
<text x="541.3" y="246.70" class="xl" font-size="8">Swing</text>
<text x="541.3" y="255.90" class="xl" font-size="8">Time (s)</text>
<text x="581.6" y="246.70" class="xl" font-size="8">Stride</text>
<text x="581.6" y="255.90" class="xl" font-size="8">Length (m)</text>
<text x="621.8" y="246.70" class="xl" font-size="8">Walking</text>
<text x="621.8" y="255.90" class="xl" font-size="8">Time (s)</text>
<text x="662.5" y="246.70" class="xl" font-size="8">Walking</text>
<text x="662.5" y="255.90" class="xl" font-size="8">Speed (s)</text>
<line x1="484.14" y1="172.0" x2="484.14" y2="174.9" stroke="#262626" stroke-width="0.6"/>
<line x1="484.14" y1="181.0" x2="484.14" y2="184.6" stroke="#262626" stroke-width="0.6"/>
<line x1="482.17" y1="172.0" x2="486.11" y2="172.0" stroke="#262626" stroke-width="0.6"/>
<line x1="482.17" y1="184.6" x2="486.11" y2="184.6" stroke="#262626" stroke-width="0.6"/>
<rect x="481.00" y="174.9" width="6.28" height="6.10" fill="#E39F22" stroke="#262626" stroke-width="0.5"/>
<line x1="481.00" y1="177.8" x2="487.28" y2="177.8" stroke="#262626" stroke-width="0.7"/>
<circle cx="484.14" cy="165.2" r="1.35" fill="none" stroke="#262626" stroke-width="0.5"/>
<circle cx="484.57" cy="172.00" r="0.85" fill="#FFA500" opacity="0.9"/>
<circle cx="484.72" cy="184.60" r="0.85" fill="#FFA500" opacity="0.9"/>
<circle cx="484.63" cy="165.20" r="0.85" fill="#FFA500" opacity="0.9"/>
<circle cx="484.33" cy="177.91" r="0.85" fill="#FFA500" opacity="0.9"/>
<circle cx="483.83" cy="180.56" r="0.85" fill="#FFA500" opacity="0.9"/>
<circle cx="483.82" cy="176.02" r="0.85" fill="#FFA500" opacity="0.9"/>
<circle cx="483.89" cy="179.80" r="0.85" fill="#FFA500" opacity="0.9"/>
<line x1="490.72" y1="150.9" x2="490.72" y2="163.7" stroke="#262626" stroke-width="0.6"/>
<line x1="490.72" y1="173.3" x2="490.72" y2="176.2" stroke="#262626" stroke-width="0.6"/>
<line x1="488.75" y1="150.9" x2="492.69" y2="150.9" stroke="#262626" stroke-width="0.6"/>
<line x1="488.75" y1="176.2" x2="492.69" y2="176.2" stroke="#262626" stroke-width="0.6"/>
<rect x="487.58" y="163.7" width="6.28" height="9.60" fill="#E02424" stroke="#262626" stroke-width="0.5"/>
<line x1="487.58" y1="169.6" x2="493.86" y2="169.6" stroke="#262626" stroke-width="0.7"/>
<circle cx="490.72" cy="179.4" r="1.35" fill="none" stroke="#262626" stroke-width="0.5"/>
<circle cx="489.88" cy="150.90" r="0.85" fill="#FF0000" opacity="0.9"/>
<circle cx="490.81" cy="176.20" r="0.85" fill="#FF0000" opacity="0.9"/>
<circle cx="490.41" cy="179.40" r="0.85" fill="#FF0000" opacity="0.9"/>
<circle cx="491.58" cy="160.91" r="0.85" fill="#FF0000" opacity="0.9"/>
<circle cx="491.41" cy="151.91" r="0.85" fill="#FF0000" opacity="0.9"/>
<circle cx="491.60" cy="165.59" r="0.85" fill="#FF0000" opacity="0.9"/>
<circle cx="490.30" cy="170.93" r="0.85" fill="#FF0000" opacity="0.9"/>
<circle cx="489.97" cy="166.07" r="0.85" fill="#FF0000" opacity="0.9"/>
<circle cx="489.99" cy="164.32" r="0.85" fill="#FF0000" opacity="0.9"/>
<line x1="497.30" y1="148.8" x2="497.30" y2="162.8" stroke="#262626" stroke-width="0.6"/>
<line x1="497.30" y1="174.9" x2="497.30" y2="190.2" stroke="#262626" stroke-width="0.6"/>
<line x1="495.33" y1="148.8" x2="499.27" y2="148.8" stroke="#262626" stroke-width="0.6"/>
<line x1="495.33" y1="190.2" x2="499.27" y2="190.2" stroke="#262626" stroke-width="0.6"/>
<rect x="494.16" y="162.8" width="6.28" height="12.10" fill="#2424E0" stroke="#262626" stroke-width="0.5"/>
<line x1="494.16" y1="168.0" x2="500.44" y2="168.0" stroke="#262626" stroke-width="0.7"/>
<circle cx="497.92" cy="148.80" r="0.85" fill="#0000FF" opacity="0.9"/>
<circle cx="497.60" cy="190.20" r="0.85" fill="#0000FF" opacity="0.9"/>
<circle cx="496.62" cy="155.78" r="0.85" fill="#0000FF" opacity="0.9"/>
<circle cx="497.91" cy="158.74" r="0.85" fill="#0000FF" opacity="0.9"/>
<circle cx="496.93" cy="181.74" r="0.85" fill="#0000FF" opacity="0.9"/>
<circle cx="497.42" cy="178.48" r="0.85" fill="#0000FF" opacity="0.9"/>
<circle cx="497.07" cy="167.84" r="0.85" fill="#0000FF" opacity="0.9"/>
<circle cx="497.73" cy="170.31" r="0.85" fill="#0000FF" opacity="0.9"/>
<circle cx="496.76" cy="170.96" r="0.85" fill="#0000FF" opacity="0.9"/>
<circle cx="496.85" cy="171.85" r="0.85" fill="#0000FF" opacity="0.9"/>
<line x1="503.88" y1="159.2" x2="503.88" y2="160.8" stroke="#262626" stroke-width="0.6"/>
<line x1="503.88" y1="166.4" x2="503.88" y2="168.0" stroke="#262626" stroke-width="0.6"/>
<line x1="501.91" y1="159.2" x2="505.85" y2="159.2" stroke="#262626" stroke-width="0.6"/>
<line x1="501.91" y1="168.0" x2="505.85" y2="168.0" stroke="#262626" stroke-width="0.6"/>
<rect x="500.74" y="160.8" width="6.28" height="5.60" fill="#137313" stroke="#262626" stroke-width="0.5"/>
<line x1="500.74" y1="163.5" x2="507.02" y2="163.5" stroke="#262626" stroke-width="0.7"/>
<circle cx="503.88" cy="140.1" r="1.35" fill="none" stroke="#262626" stroke-width="0.5"/>
<circle cx="503.88" cy="179.4" r="1.35" fill="none" stroke="#262626" stroke-width="0.5"/>
<circle cx="503.88" cy="183.8" r="1.35" fill="none" stroke="#262626" stroke-width="0.5"/>
<circle cx="503.57" cy="159.20" r="0.85" fill="#008000" opacity="0.9"/>
<circle cx="503.69" cy="168.00" r="0.85" fill="#008000" opacity="0.9"/>
<circle cx="504.77" cy="140.10" r="0.85" fill="#008000" opacity="0.9"/>
<circle cx="503.89" cy="179.40" r="0.85" fill="#008000" opacity="0.9"/>
<circle cx="503.40" cy="183.80" r="0.85" fill="#008000" opacity="0.9"/>
<circle cx="504.44" cy="162.17" r="0.85" fill="#008000" opacity="0.9"/>
<circle cx="504.16" cy="161.66" r="0.85" fill="#008000" opacity="0.9"/>
<circle cx="504.76" cy="165.75" r="0.85" fill="#008000" opacity="0.9"/>
<circle cx="503.16" cy="164.04" r="0.85" fill="#008000" opacity="0.9"/>
<line x1="510.46" y1="154.0" x2="510.46" y2="154.7" stroke="#262626" stroke-width="0.6"/>
<line x1="510.46" y1="164.8" x2="510.46" y2="175.5" stroke="#262626" stroke-width="0.6"/>
<line x1="508.49" y1="154.0" x2="512.43" y2="154.0" stroke="#262626" stroke-width="0.6"/>
<line x1="508.49" y1="175.5" x2="512.43" y2="175.5" stroke="#262626" stroke-width="0.6"/>
<rect x="507.32" y="154.7" width="6.28" height="10.10" fill="#731373" stroke="#262626" stroke-width="0.5"/>
<line x1="507.32" y1="159.0" x2="513.60" y2="159.0" stroke="#262626" stroke-width="0.7"/>
<circle cx="510.09" cy="154.00" r="0.85" fill="#800080" opacity="0.9"/>
<circle cx="509.77" cy="175.50" r="0.85" fill="#800080" opacity="0.9"/>
<circle cx="509.90" cy="169.88" r="0.85" fill="#800080" opacity="0.9"/>
<circle cx="511.31" cy="162.97" r="0.85" fill="#800080" opacity="0.9"/>
<circle cx="510.61" cy="163.19" r="0.85" fill="#800080" opacity="0.9"/>
<circle cx="511.23" cy="163.94" r="0.85" fill="#800080" opacity="0.9"/>
<circle cx="510.23" cy="155.11" r="0.85" fill="#800080" opacity="0.9"/>
<line x1="525.24" y1="203.1" x2="525.24" y2="204.6" stroke="#262626" stroke-width="0.6"/>
<line x1="525.24" y1="207.8" x2="525.24" y2="209.3" stroke="#262626" stroke-width="0.6"/>
<line x1="523.27" y1="203.1" x2="527.21" y2="203.1" stroke="#262626" stroke-width="0.6"/>
<line x1="523.27" y1="209.3" x2="527.21" y2="209.3" stroke="#262626" stroke-width="0.6"/>
<rect x="522.10" y="204.6" width="6.28" height="3.20" fill="#E39F22" stroke="#262626" stroke-width="0.5"/>
<line x1="522.10" y1="206.2" x2="528.38" y2="206.2" stroke="#262626" stroke-width="0.7"/>
<circle cx="525.24" cy="213.5" r="1.35" fill="none" stroke="#262626" stroke-width="0.5"/>
<circle cx="526.04" cy="203.10" r="0.85" fill="#FFA500" opacity="0.9"/>
<circle cx="524.53" cy="209.30" r="0.85" fill="#FFA500" opacity="0.9"/>
<circle cx="525.41" cy="213.50" r="0.85" fill="#FFA500" opacity="0.9"/>
<circle cx="525.46" cy="207.37" r="0.85" fill="#FFA500" opacity="0.9"/>
<circle cx="524.73" cy="206.04" r="0.85" fill="#FFA500" opacity="0.9"/>
<circle cx="525.00" cy="205.43" r="0.85" fill="#FFA500" opacity="0.9"/>
<circle cx="524.59" cy="207.09" r="0.85" fill="#FFA500" opacity="0.9"/>
<line x1="531.82" y1="204.7" x2="531.82" y2="206.0" stroke="#262626" stroke-width="0.6"/>
<line x1="531.82" y1="214.0" x2="531.82" y2="217.2" stroke="#262626" stroke-width="0.6"/>
<line x1="529.85" y1="204.7" x2="533.79" y2="204.7" stroke="#262626" stroke-width="0.6"/>
<line x1="529.85" y1="217.2" x2="533.79" y2="217.2" stroke="#262626" stroke-width="0.6"/>
<rect x="528.68" y="206.0" width="6.28" height="8.00" fill="#E02424" stroke="#262626" stroke-width="0.5"/>
<line x1="528.68" y1="210.0" x2="534.96" y2="210.0" stroke="#262626" stroke-width="0.7"/>
<circle cx="531.29" cy="204.70" r="0.85" fill="#FF0000" opacity="0.9"/>
<circle cx="530.94" cy="217.20" r="0.85" fill="#FF0000" opacity="0.9"/>
<circle cx="531.51" cy="207.63" r="0.85" fill="#FF0000" opacity="0.9"/>
<circle cx="532.14" cy="208.04" r="0.85" fill="#FF0000" opacity="0.9"/>
<circle cx="531.25" cy="210.80" r="0.85" fill="#FF0000" opacity="0.9"/>
<circle cx="531.48" cy="211.21" r="0.85" fill="#FF0000" opacity="0.9"/>
<line x1="538.40" y1="204.1" x2="538.40" y2="206.8" stroke="#262626" stroke-width="0.6"/>
<line x1="538.40" y1="213.2" x2="538.40" y2="219.3" stroke="#262626" stroke-width="0.6"/>
<line x1="536.43" y1="204.1" x2="540.37" y2="204.1" stroke="#262626" stroke-width="0.6"/>
<line x1="536.43" y1="219.3" x2="540.37" y2="219.3" stroke="#262626" stroke-width="0.6"/>
<rect x="535.26" y="206.8" width="6.28" height="6.40" fill="#2424E0" stroke="#262626" stroke-width="0.5"/>
<line x1="535.26" y1="210.0" x2="541.54" y2="210.0" stroke="#262626" stroke-width="0.7"/>
<circle cx="538.21" cy="204.10" r="0.85" fill="#0000FF" opacity="0.9"/>
<circle cx="538.49" cy="219.30" r="0.85" fill="#0000FF" opacity="0.9"/>
<circle cx="538.65" cy="214.44" r="0.85" fill="#0000FF" opacity="0.9"/>
<circle cx="537.66" cy="211.89" r="0.85" fill="#0000FF" opacity="0.9"/>
<circle cx="537.79" cy="210.31" r="0.85" fill="#0000FF" opacity="0.9"/>
<circle cx="538.75" cy="207.20" r="0.85" fill="#0000FF" opacity="0.9"/>
<circle cx="538.24" cy="207.45" r="0.85" fill="#0000FF" opacity="0.9"/>
<line x1="544.98" y1="202.7" x2="544.98" y2="204.4" stroke="#262626" stroke-width="0.6"/>
<line x1="544.98" y1="210.7" x2="544.98" y2="214.3" stroke="#262626" stroke-width="0.6"/>
<line x1="543.01" y1="202.7" x2="546.95" y2="202.7" stroke="#262626" stroke-width="0.6"/>
<line x1="543.01" y1="214.3" x2="546.95" y2="214.3" stroke="#262626" stroke-width="0.6"/>
<rect x="541.84" y="204.4" width="6.28" height="6.30" fill="#137313" stroke="#262626" stroke-width="0.5"/>
<line x1="541.84" y1="207.5" x2="548.12" y2="207.5" stroke="#262626" stroke-width="0.7"/>
<circle cx="544.98" cy="220.4" r="1.35" fill="none" stroke="#262626" stroke-width="0.5"/>
<circle cx="545.10" cy="202.70" r="0.85" fill="#008000" opacity="0.9"/>
<circle cx="544.72" cy="214.30" r="0.85" fill="#008000" opacity="0.9"/>
<circle cx="544.83" cy="220.40" r="0.85" fill="#008000" opacity="0.9"/>
<circle cx="545.64" cy="206.18" r="0.85" fill="#008000" opacity="0.9"/>
<circle cx="545.87" cy="206.34" r="0.85" fill="#008000" opacity="0.9"/>
<circle cx="544.73" cy="210.41" r="0.85" fill="#008000" opacity="0.9"/>
<circle cx="544.43" cy="206.37" r="0.85" fill="#008000" opacity="0.9"/>
<line x1="551.56" y1="205.0" x2="551.56" y2="205.3" stroke="#262626" stroke-width="0.6"/>
<line x1="551.56" y1="214.6" x2="551.56" y2="224.8" stroke="#262626" stroke-width="0.6"/>
<line x1="549.59" y1="205.0" x2="553.53" y2="205.0" stroke="#262626" stroke-width="0.6"/>
<line x1="549.59" y1="224.8" x2="553.53" y2="224.8" stroke="#262626" stroke-width="0.6"/>
<rect x="548.42" y="205.3" width="6.28" height="9.30" fill="#731373" stroke="#262626" stroke-width="0.5"/>
<line x1="548.42" y1="210.4" x2="554.70" y2="210.4" stroke="#262626" stroke-width="0.7"/>
<circle cx="552.14" cy="205.00" r="0.85" fill="#800080" opacity="0.9"/>
<circle cx="551.39" cy="224.80" r="0.85" fill="#800080" opacity="0.9"/>
<circle cx="552.25" cy="222.03" r="0.85" fill="#800080" opacity="0.9"/>
<circle cx="551.49" cy="207.19" r="0.85" fill="#800080" opacity="0.9"/>
<circle cx="550.95" cy="205.35" r="0.85" fill="#800080" opacity="0.9"/>
<circle cx="550.69" cy="213.69" r="0.85" fill="#800080" opacity="0.9"/>
<circle cx="551.65" cy="209.24" r="0.85" fill="#800080" opacity="0.9"/>
<line x1="566.34" y1="54.2" x2="566.34" y2="67.5" stroke="#262626" stroke-width="0.6"/>
<line x1="566.34" y1="91.1" x2="566.34" y2="106.2" stroke="#262626" stroke-width="0.6"/>
<line x1="564.37" y1="54.2" x2="568.31" y2="54.2" stroke="#262626" stroke-width="0.6"/>
<line x1="564.37" y1="106.2" x2="568.31" y2="106.2" stroke="#262626" stroke-width="0.6"/>
<rect x="563.20" y="67.5" width="6.28" height="23.60" fill="#E39F22" stroke="#262626" stroke-width="0.5"/>
<line x1="563.20" y1="73.3" x2="569.48" y2="73.3" stroke="#262626" stroke-width="0.7"/>
<circle cx="566.38" cy="54.20" r="0.85" fill="#FFA500" opacity="0.9"/>
<circle cx="567.11" cy="106.20" r="0.85" fill="#FFA500" opacity="0.9"/>
<circle cx="565.64" cy="62.72" r="0.85" fill="#FFA500" opacity="0.9"/>
<circle cx="566.32" cy="66.30" r="0.85" fill="#FFA500" opacity="0.9"/>
<circle cx="566.89" cy="92.44" r="0.85" fill="#FFA500" opacity="0.9"/>
<circle cx="567.18" cy="100.50" r="0.85" fill="#FFA500" opacity="0.9"/>
<circle cx="565.80" cy="76.25" r="0.85" fill="#FFA500" opacity="0.9"/>
<circle cx="565.67" cy="79.41" r="0.85" fill="#FFA500" opacity="0.9"/>
<circle cx="567.14" cy="70.94" r="0.85" fill="#FFA500" opacity="0.9"/>
<circle cx="567.20" cy="74.19" r="0.85" fill="#FFA500" opacity="0.9"/>
<line x1="572.92" y1="40.3" x2="572.92" y2="66.2" stroke="#262626" stroke-width="0.6"/>
<line x1="572.92" y1="91.1" x2="572.92" y2="104.6" stroke="#262626" stroke-width="0.6"/>
<line x1="570.95" y1="40.3" x2="574.89" y2="40.3" stroke="#262626" stroke-width="0.6"/>
<line x1="570.95" y1="104.6" x2="574.89" y2="104.6" stroke="#262626" stroke-width="0.6"/>
<rect x="569.78" y="66.2" width="6.28" height="24.90" fill="#E02424" stroke="#262626" stroke-width="0.5"/>
<line x1="569.78" y1="72.2" x2="576.06" y2="72.2" stroke="#262626" stroke-width="0.7"/>
<circle cx="573.43" cy="40.30" r="0.85" fill="#FF0000" opacity="0.9"/>
<circle cx="572.42" cy="104.60" r="0.85" fill="#FF0000" opacity="0.9"/>
<circle cx="572.75" cy="52.80" r="0.85" fill="#FF0000" opacity="0.9"/>
<circle cx="573.54" cy="41.68" r="0.85" fill="#FF0000" opacity="0.9"/>
<circle cx="573.51" cy="103.60" r="0.85" fill="#FF0000" opacity="0.9"/>
<circle cx="572.35" cy="96.34" r="0.85" fill="#FF0000" opacity="0.9"/>
<circle cx="572.41" cy="88.72" r="0.85" fill="#FF0000" opacity="0.9"/>
<circle cx="572.74" cy="81.65" r="0.85" fill="#FF0000" opacity="0.9"/>
<circle cx="572.95" cy="86.73" r="0.85" fill="#FF0000" opacity="0.9"/>
<circle cx="572.71" cy="70.19" r="0.85" fill="#FF0000" opacity="0.9"/>
<line x1="579.50" y1="38.7" x2="579.50" y2="66.1" stroke="#262626" stroke-width="0.6"/>
<line x1="579.50" y1="91.9" x2="579.50" y2="105.4" stroke="#262626" stroke-width="0.6"/>
<line x1="577.53" y1="38.7" x2="581.47" y2="38.7" stroke="#262626" stroke-width="0.6"/>
<line x1="577.53" y1="105.4" x2="581.47" y2="105.4" stroke="#262626" stroke-width="0.6"/>
<rect x="576.36" y="66.1" width="6.28" height="25.80" fill="#2424E0" stroke="#262626" stroke-width="0.5"/>
<line x1="576.36" y1="76.2" x2="582.64" y2="76.2" stroke="#262626" stroke-width="0.7"/>
<circle cx="579.50" cy="107.5" r="1.35" fill="none" stroke="#262626" stroke-width="0.5"/>
<circle cx="580.11" cy="38.70" r="0.85" fill="#0000FF" opacity="0.9"/>
<circle cx="578.81" cy="105.40" r="0.85" fill="#0000FF" opacity="0.9"/>
<circle cx="579.68" cy="107.50" r="0.85" fill="#0000FF" opacity="0.9"/>
<circle cx="579.59" cy="42.07" r="0.85" fill="#0000FF" opacity="0.9"/>
<circle cx="579.73" cy="45.47" r="0.85" fill="#0000FF" opacity="0.9"/>
<circle cx="579.15" cy="101.69" r="0.85" fill="#0000FF" opacity="0.9"/>
<circle cx="579.36" cy="104.01" r="0.85" fill="#0000FF" opacity="0.9"/>
<circle cx="579.65" cy="67.16" r="0.85" fill="#0000FF" opacity="0.9"/>
<circle cx="579.37" cy="80.61" r="0.85" fill="#0000FF" opacity="0.9"/>
<circle cx="579.79" cy="85.64" r="0.85" fill="#0000FF" opacity="0.9"/>
<circle cx="579.40" cy="67.08" r="0.85" fill="#0000FF" opacity="0.9"/>
<line x1="586.08" y1="42.7" x2="586.08" y2="64.5" stroke="#262626" stroke-width="0.6"/>
<line x1="586.08" y1="91.1" x2="586.08" y2="104.3" stroke="#262626" stroke-width="0.6"/>
<line x1="584.11" y1="42.7" x2="588.05" y2="42.7" stroke="#262626" stroke-width="0.6"/>
<line x1="584.11" y1="104.3" x2="588.05" y2="104.3" stroke="#262626" stroke-width="0.6"/>
<rect x="582.94" y="64.5" width="6.28" height="26.60" fill="#137313" stroke="#262626" stroke-width="0.5"/>
<line x1="582.94" y1="77.0" x2="589.22" y2="77.0" stroke="#262626" stroke-width="0.7"/>
<circle cx="585.50" cy="42.70" r="0.85" fill="#008000" opacity="0.9"/>
<circle cx="586.03" cy="104.30" r="0.85" fill="#008000" opacity="0.9"/>
<circle cx="585.37" cy="52.26" r="0.85" fill="#008000" opacity="0.9"/>
<circle cx="585.41" cy="43.21" r="0.85" fill="#008000" opacity="0.9"/>
<circle cx="585.96" cy="99.27" r="0.85" fill="#008000" opacity="0.9"/>
<circle cx="585.35" cy="97.56" r="0.85" fill="#008000" opacity="0.9"/>
<circle cx="585.98" cy="70.76" r="0.85" fill="#008000" opacity="0.9"/>
<circle cx="586.10" cy="84.81" r="0.85" fill="#008000" opacity="0.9"/>
<circle cx="585.25" cy="85.25" r="0.85" fill="#008000" opacity="0.9"/>
<circle cx="586.33" cy="76.69" r="0.85" fill="#008000" opacity="0.9"/>
<line x1="592.66" y1="41.4" x2="592.66" y2="65.1" stroke="#262626" stroke-width="0.6"/>
<line x1="592.66" y1="103.8" x2="592.66" y2="135.9" stroke="#262626" stroke-width="0.6"/>
<line x1="590.69" y1="41.4" x2="594.63" y2="41.4" stroke="#262626" stroke-width="0.6"/>
<line x1="590.69" y1="135.9" x2="594.63" y2="135.9" stroke="#262626" stroke-width="0.6"/>
<rect x="589.52" y="65.1" width="6.28" height="38.70" fill="#731373" stroke="#262626" stroke-width="0.5"/>
<line x1="589.52" y1="76.5" x2="595.80" y2="76.5" stroke="#262626" stroke-width="0.7"/>
<circle cx="592.01" cy="41.40" r="0.85" fill="#800080" opacity="0.9"/>
<circle cx="593.30" cy="135.90" r="0.85" fill="#800080" opacity="0.9"/>
<circle cx="593.55" cy="43.35" r="0.85" fill="#800080" opacity="0.9"/>
<circle cx="593.08" cy="58.78" r="0.85" fill="#800080" opacity="0.9"/>
<circle cx="593.23" cy="128.76" r="0.85" fill="#800080" opacity="0.9"/>
<circle cx="592.11" cy="120.22" r="0.85" fill="#800080" opacity="0.9"/>
<circle cx="593.53" cy="67.20" r="0.85" fill="#800080" opacity="0.9"/>
<circle cx="592.65" cy="84.60" r="0.85" fill="#800080" opacity="0.9"/>
<circle cx="593.48" cy="79.72" r="0.85" fill="#800080" opacity="0.9"/>
<circle cx="593.41" cy="101.90" r="0.85" fill="#800080" opacity="0.9"/>
<line x1="607.44" y1="92.4" x2="607.44" y2="100.2" stroke="#262626" stroke-width="0.6"/>
<line x1="607.44" y1="105.8" x2="607.44" y2="108.6" stroke="#262626" stroke-width="0.6"/>
<line x1="605.47" y1="92.4" x2="609.41" y2="92.4" stroke="#262626" stroke-width="0.6"/>
<line x1="605.47" y1="108.6" x2="609.41" y2="108.6" stroke="#262626" stroke-width="0.6"/>
<rect x="604.30" y="100.2" width="6.28" height="5.60" fill="#E39F22" stroke="#262626" stroke-width="0.5"/>
<line x1="604.30" y1="103.0" x2="610.58" y2="103.0" stroke="#262626" stroke-width="0.7"/>
<circle cx="607.44" cy="118.2" r="1.35" fill="none" stroke="#262626" stroke-width="0.5"/>
<circle cx="607.90" cy="92.40" r="0.85" fill="#FFA500" opacity="0.9"/>
<circle cx="606.83" cy="108.60" r="0.85" fill="#FFA500" opacity="0.9"/>
<circle cx="608.15" cy="118.20" r="0.85" fill="#FFA500" opacity="0.9"/>
<circle cx="607.03" cy="93.69" r="0.85" fill="#FFA500" opacity="0.9"/>
<circle cx="608.01" cy="104.61" r="0.85" fill="#FFA500" opacity="0.9"/>
<circle cx="606.80" cy="105.41" r="0.85" fill="#FFA500" opacity="0.9"/>
<circle cx="607.44" cy="100.57" r="0.85" fill="#FFA500" opacity="0.9"/>
<circle cx="608.20" cy="102.17" r="0.85" fill="#FFA500" opacity="0.9"/>
<line x1="614.02" y1="79.0" x2="614.02" y2="89.2" stroke="#262626" stroke-width="0.6"/>
<line x1="614.02" y1="107.5" x2="614.02" y2="113.8" stroke="#262626" stroke-width="0.6"/>
<line x1="612.05" y1="79.0" x2="615.99" y2="79.0" stroke="#262626" stroke-width="0.6"/>
<line x1="612.05" y1="113.8" x2="615.99" y2="113.8" stroke="#262626" stroke-width="0.6"/>
<rect x="610.88" y="89.2" width="6.28" height="18.30" fill="#E02424" stroke="#262626" stroke-width="0.5"/>
<line x1="610.88" y1="92.9" x2="617.16" y2="92.9" stroke="#262626" stroke-width="0.7"/>
<circle cx="613.41" cy="79.00" r="0.85" fill="#FF0000" opacity="0.9"/>
<circle cx="614.81" cy="113.80" r="0.85" fill="#FF0000" opacity="0.9"/>
<circle cx="614.34" cy="81.12" r="0.85" fill="#FF0000" opacity="0.9"/>
<circle cx="614.73" cy="109.16" r="0.85" fill="#FF0000" opacity="0.9"/>
<circle cx="613.42" cy="98.46" r="0.85" fill="#FF0000" opacity="0.9"/>
<circle cx="614.53" cy="95.04" r="0.85" fill="#FF0000" opacity="0.9"/>
<circle cx="613.33" cy="89.87" r="0.85" fill="#FF0000" opacity="0.9"/>
<circle cx="614.08" cy="92.53" r="0.85" fill="#FF0000" opacity="0.9"/>
<line x1="620.60" y1="78.2" x2="620.60" y2="90.4" stroke="#262626" stroke-width="0.6"/>
<line x1="620.60" y1="99.0" x2="620.60" y2="112.2" stroke="#262626" stroke-width="0.6"/>
<line x1="618.63" y1="78.2" x2="622.57" y2="78.2" stroke="#262626" stroke-width="0.6"/>
<line x1="618.63" y1="112.2" x2="622.57" y2="112.2" stroke="#262626" stroke-width="0.6"/>
<rect x="617.46" y="90.4" width="6.28" height="8.60" fill="#2424E0" stroke="#262626" stroke-width="0.5"/>
<line x1="617.46" y1="92.3" x2="623.74" y2="92.3" stroke="#262626" stroke-width="0.7"/>
<circle cx="620.83" cy="78.20" r="0.85" fill="#0000FF" opacity="0.9"/>
<circle cx="620.41" cy="112.20" r="0.85" fill="#0000FF" opacity="0.9"/>
<circle cx="621.14" cy="85.96" r="0.85" fill="#0000FF" opacity="0.9"/>
<circle cx="620.18" cy="82.59" r="0.85" fill="#0000FF" opacity="0.9"/>
<circle cx="621.48" cy="110.52" r="0.85" fill="#0000FF" opacity="0.9"/>
<circle cx="620.74" cy="106.33" r="0.85" fill="#0000FF" opacity="0.9"/>
<circle cx="620.35" cy="95.39" r="0.85" fill="#0000FF" opacity="0.9"/>
<circle cx="621.08" cy="97.99" r="0.85" fill="#0000FF" opacity="0.9"/>
<circle cx="620.50" cy="91.30" r="0.85" fill="#0000FF" opacity="0.9"/>
<circle cx="620.02" cy="98.94" r="0.85" fill="#0000FF" opacity="0.9"/>
<line x1="627.18" y1="73.4" x2="627.18" y2="84.9" stroke="#262626" stroke-width="0.6"/>
<line x1="627.18" y1="99.8" x2="627.18" y2="110.6" stroke="#262626" stroke-width="0.6"/>
<line x1="625.21" y1="73.4" x2="629.15" y2="73.4" stroke="#262626" stroke-width="0.6"/>
<line x1="625.21" y1="110.6" x2="629.15" y2="110.6" stroke="#262626" stroke-width="0.6"/>
<rect x="624.04" y="84.9" width="6.28" height="14.90" fill="#137313" stroke="#262626" stroke-width="0.5"/>
<line x1="624.04" y1="92.3" x2="630.32" y2="92.3" stroke="#262626" stroke-width="0.7"/>
<circle cx="627.33" cy="73.40" r="0.85" fill="#008000" opacity="0.9"/>
<circle cx="627.47" cy="110.60" r="0.85" fill="#008000" opacity="0.9"/>
<circle cx="626.84" cy="81.95" r="0.85" fill="#008000" opacity="0.9"/>
<circle cx="626.28" cy="100.32" r="0.85" fill="#008000" opacity="0.9"/>
<circle cx="626.34" cy="97.12" r="0.85" fill="#008000" opacity="0.9"/>
<circle cx="626.55" cy="88.68" r="0.85" fill="#008000" opacity="0.9"/>
<circle cx="627.39" cy="94.42" r="0.85" fill="#008000" opacity="0.9"/>
<circle cx="627.06" cy="99.56" r="0.85" fill="#008000" opacity="0.9"/>
<line x1="633.76" y1="79.4" x2="633.76" y2="84.3" stroke="#262626" stroke-width="0.6"/>
<line x1="633.76" y1="103.4" x2="633.76" y2="109.8" stroke="#262626" stroke-width="0.6"/>
<line x1="631.79" y1="79.4" x2="635.73" y2="79.4" stroke="#262626" stroke-width="0.6"/>
<line x1="631.79" y1="109.8" x2="635.73" y2="109.8" stroke="#262626" stroke-width="0.6"/>
<rect x="630.62" y="84.3" width="6.28" height="19.10" fill="#731373" stroke="#262626" stroke-width="0.5"/>
<line x1="630.62" y1="92.3" x2="636.90" y2="92.3" stroke="#262626" stroke-width="0.7"/>
<circle cx="632.90" cy="79.40" r="0.85" fill="#800080" opacity="0.9"/>
<circle cx="632.86" cy="109.80" r="0.85" fill="#800080" opacity="0.9"/>
<circle cx="633.50" cy="106.68" r="0.85" fill="#800080" opacity="0.9"/>
<circle cx="633.05" cy="101.40" r="0.85" fill="#800080" opacity="0.9"/>
<circle cx="633.50" cy="86.82" r="0.85" fill="#800080" opacity="0.9"/>
<circle cx="633.26" cy="88.64" r="0.85" fill="#800080" opacity="0.9"/>
<circle cx="633.91" cy="96.77" r="0.85" fill="#800080" opacity="0.9"/>
<line x1="648.54" y1="79.7" x2="648.54" y2="92.0" stroke="#262626" stroke-width="0.6"/>
<line x1="648.54" y1="105.3" x2="648.54" y2="115.0" stroke="#262626" stroke-width="0.6"/>
<line x1="646.57" y1="79.7" x2="650.51" y2="79.7" stroke="#262626" stroke-width="0.6"/>
<line x1="646.57" y1="115.0" x2="650.51" y2="115.0" stroke="#262626" stroke-width="0.6"/>
<rect x="645.40" y="92.0" width="6.28" height="13.30" fill="#E39F22" stroke="#262626" stroke-width="0.5"/>
<line x1="645.40" y1="97.4" x2="651.68" y2="97.4" stroke="#262626" stroke-width="0.7"/>
<circle cx="648.54" cy="135.2" r="1.35" fill="none" stroke="#262626" stroke-width="0.5"/>
<circle cx="647.91" cy="79.70" r="0.85" fill="#FFA500" opacity="0.9"/>
<circle cx="647.81" cy="115.00" r="0.85" fill="#FFA500" opacity="0.9"/>
<circle cx="648.79" cy="135.20" r="0.85" fill="#FFA500" opacity="0.9"/>
<circle cx="649.21" cy="86.95" r="0.85" fill="#FFA500" opacity="0.9"/>
<circle cx="649.05" cy="82.21" r="0.85" fill="#FFA500" opacity="0.9"/>
<circle cx="648.36" cy="111.35" r="0.85" fill="#FFA500" opacity="0.9"/>
<circle cx="648.12" cy="98.32" r="0.85" fill="#FFA500" opacity="0.9"/>
<circle cx="647.66" cy="93.79" r="0.85" fill="#FFA500" opacity="0.9"/>
<circle cx="648.80" cy="104.46" r="0.85" fill="#FFA500" opacity="0.9"/>
<circle cx="648.65" cy="95.24" r="0.85" fill="#FFA500" opacity="0.9"/>
<line x1="655.12" y1="77.1" x2="655.12" y2="90.6" stroke="#262626" stroke-width="0.6"/>
<line x1="655.12" y1="117.3" x2="655.12" y2="144.0" stroke="#262626" stroke-width="0.6"/>
<line x1="653.15" y1="77.1" x2="657.09" y2="77.1" stroke="#262626" stroke-width="0.6"/>
<line x1="653.15" y1="144.0" x2="657.09" y2="144.0" stroke="#262626" stroke-width="0.6"/>
<rect x="651.98" y="90.6" width="6.28" height="26.70" fill="#E02424" stroke="#262626" stroke-width="0.5"/>
<line x1="651.98" y1="108.8" x2="658.26" y2="108.8" stroke="#262626" stroke-width="0.7"/>
<circle cx="655.18" cy="77.10" r="0.85" fill="#FF0000" opacity="0.9"/>
<circle cx="654.95" cy="144.00" r="0.85" fill="#FF0000" opacity="0.9"/>
<circle cx="654.65" cy="81.83" r="0.85" fill="#FF0000" opacity="0.9"/>
<circle cx="654.33" cy="85.82" r="0.85" fill="#FF0000" opacity="0.9"/>
<circle cx="655.62" cy="129.15" r="0.85" fill="#FF0000" opacity="0.9"/>
<circle cx="654.24" cy="142.32" r="0.85" fill="#FF0000" opacity="0.9"/>
<circle cx="655.21" cy="110.19" r="0.85" fill="#FF0000" opacity="0.9"/>
<circle cx="655.91" cy="97.23" r="0.85" fill="#FF0000" opacity="0.9"/>
<circle cx="654.48" cy="114.72" r="0.85" fill="#FF0000" opacity="0.9"/>
<circle cx="654.58" cy="91.77" r="0.85" fill="#FF0000" opacity="0.9"/>
<line x1="661.70" y1="78.8" x2="661.70" y2="102.9" stroke="#262626" stroke-width="0.6"/>
<line x1="661.70" y1="120.0" x2="661.70" y2="145.1" stroke="#262626" stroke-width="0.6"/>
<line x1="659.73" y1="78.8" x2="663.67" y2="78.8" stroke="#262626" stroke-width="0.6"/>
<line x1="659.73" y1="145.1" x2="663.67" y2="145.1" stroke="#262626" stroke-width="0.6"/>
<rect x="658.56" y="102.9" width="6.28" height="17.10" fill="#2424E0" stroke="#262626" stroke-width="0.5"/>
<line x1="658.56" y1="111.2" x2="664.84" y2="111.2" stroke="#262626" stroke-width="0.7"/>
<circle cx="662.40" cy="78.80" r="0.85" fill="#0000FF" opacity="0.9"/>
<circle cx="662.21" cy="145.10" r="0.85" fill="#0000FF" opacity="0.9"/>
<circle cx="662.09" cy="93.45" r="0.85" fill="#0000FF" opacity="0.9"/>
<circle cx="660.81" cy="91.02" r="0.85" fill="#0000FF" opacity="0.9"/>
<circle cx="662.32" cy="136.10" r="0.85" fill="#0000FF" opacity="0.9"/>
<circle cx="662.14" cy="140.42" r="0.85" fill="#0000FF" opacity="0.9"/>
<circle cx="661.64" cy="105.89" r="0.85" fill="#0000FF" opacity="0.9"/>
<circle cx="662.14" cy="108.19" r="0.85" fill="#0000FF" opacity="0.9"/>
<circle cx="661.61" cy="108.03" r="0.85" fill="#0000FF" opacity="0.9"/>
<circle cx="661.21" cy="103.73" r="0.85" fill="#0000FF" opacity="0.9"/>
<line x1="668.28" y1="78.4" x2="668.28" y2="101.2" stroke="#262626" stroke-width="0.6"/>
<line x1="668.28" y1="119.3" x2="668.28" y2="147.2" stroke="#262626" stroke-width="0.6"/>
<line x1="666.31" y1="78.4" x2="670.25" y2="78.4" stroke="#262626" stroke-width="0.6"/>
<line x1="666.31" y1="147.2" x2="670.25" y2="147.2" stroke="#262626" stroke-width="0.6"/>
<rect x="665.14" y="101.2" width="6.28" height="18.10" fill="#137313" stroke="#262626" stroke-width="0.5"/>
<line x1="665.14" y1="113.6" x2="671.42" y2="113.6" stroke="#262626" stroke-width="0.7"/>
<circle cx="667.86" cy="78.40" r="0.85" fill="#008000" opacity="0.9"/>
<circle cx="668.38" cy="147.20" r="0.85" fill="#008000" opacity="0.9"/>
<circle cx="668.16" cy="80.80" r="0.85" fill="#008000" opacity="0.9"/>
<circle cx="668.80" cy="83.70" r="0.85" fill="#008000" opacity="0.9"/>
<circle cx="668.32" cy="120.38" r="0.85" fill="#008000" opacity="0.9"/>
<circle cx="667.86" cy="128.66" r="0.85" fill="#008000" opacity="0.9"/>
<circle cx="668.54" cy="114.77" r="0.85" fill="#008000" opacity="0.9"/>
<circle cx="669.12" cy="113.78" r="0.85" fill="#008000" opacity="0.9"/>
<circle cx="667.77" cy="116.50" r="0.85" fill="#008000" opacity="0.9"/>
<circle cx="668.96" cy="114.08" r="0.85" fill="#008000" opacity="0.9"/>
<line x1="674.86" y1="110.0" x2="674.86" y2="110.0" stroke="#262626" stroke-width="0.6"/>
<line x1="674.86" y1="124.1" x2="674.86" y2="133.4" stroke="#262626" stroke-width="0.6"/>
<line x1="672.89" y1="110.0" x2="676.83" y2="110.0" stroke="#262626" stroke-width="0.6"/>
<line x1="672.89" y1="133.4" x2="676.83" y2="133.4" stroke="#262626" stroke-width="0.6"/>
<rect x="671.72" y="110.0" width="6.28" height="14.10" fill="#731373" stroke="#262626" stroke-width="0.5"/>
<line x1="671.72" y1="114.1" x2="678.00" y2="114.1" stroke="#262626" stroke-width="0.7"/>
<circle cx="674.86" cy="82.4" r="1.35" fill="none" stroke="#262626" stroke-width="0.5"/>
<circle cx="674.86" cy="158.9" r="1.35" fill="none" stroke="#262626" stroke-width="0.5"/>
<circle cx="675.30" cy="110.00" r="0.85" fill="#800080" opacity="0.9"/>
<circle cx="674.55" cy="133.40" r="0.85" fill="#800080" opacity="0.9"/>
<circle cx="675.54" cy="82.40" r="0.85" fill="#800080" opacity="0.9"/>
<circle cx="674.55" cy="158.90" r="0.85" fill="#800080" opacity="0.9"/>
<circle cx="674.39" cy="124.24" r="0.85" fill="#800080" opacity="0.9"/>
<circle cx="675.59" cy="113.67" r="0.85" fill="#800080" opacity="0.9"/>
<circle cx="675.10" cy="113.33" r="0.85" fill="#800080" opacity="0.9"/>
<circle cx="675.21" cy="120.49" r="0.85" fill="#800080" opacity="0.9"/>
<circle cx="675.16" cy="123.32" r="0.85" fill="#800080" opacity="0.9"/>
<path d="M22.2 123.6 L22.2 120.6 L49.8 120.6 L49.8 123.6" fill="none" stroke="#000" stroke-width="1.3"/>
<text x="35.3" y="120.7" class="st">*</text>
<path d="M22.2 131.8 L22.2 128.8 L43.2 128.8 L43.2 131.8" fill="none" stroke="#000" stroke-width="1.3"/>
<text x="32.8" y="130.7" class="st">*</text>
<path d="M22.2 140.4 L22.2 137.4 L31.4 137.4 L31.4 140.4" fill="none" stroke="#000" stroke-width="1.3"/>
<text x="27.1" y="138.7" class="st">*</text>
<path d="M255.5 136.9 L255.5 134.0 L283.6 134.0 L283.6 136.9" fill="none" stroke="#000" stroke-width="1.3"/>
<text x="269.0" y="134.1" class="st">*</text>
<path d="M481.3 127.4 L481.3 124.5 L509.4 124.5 L509.4 127.4" fill="none" stroke="#000" stroke-width="1.3"/>
<text x="494.8" y="124.4" class="st">*</text>
<path d="M482.2 135.7 L482.2 132.7 L504.2 132.7 L504.2 135.7" fill="none" stroke="#000" stroke-width="1.3"/>
<text x="492.8" y="134.6" class="st">*</text>
</svg></body></html>
